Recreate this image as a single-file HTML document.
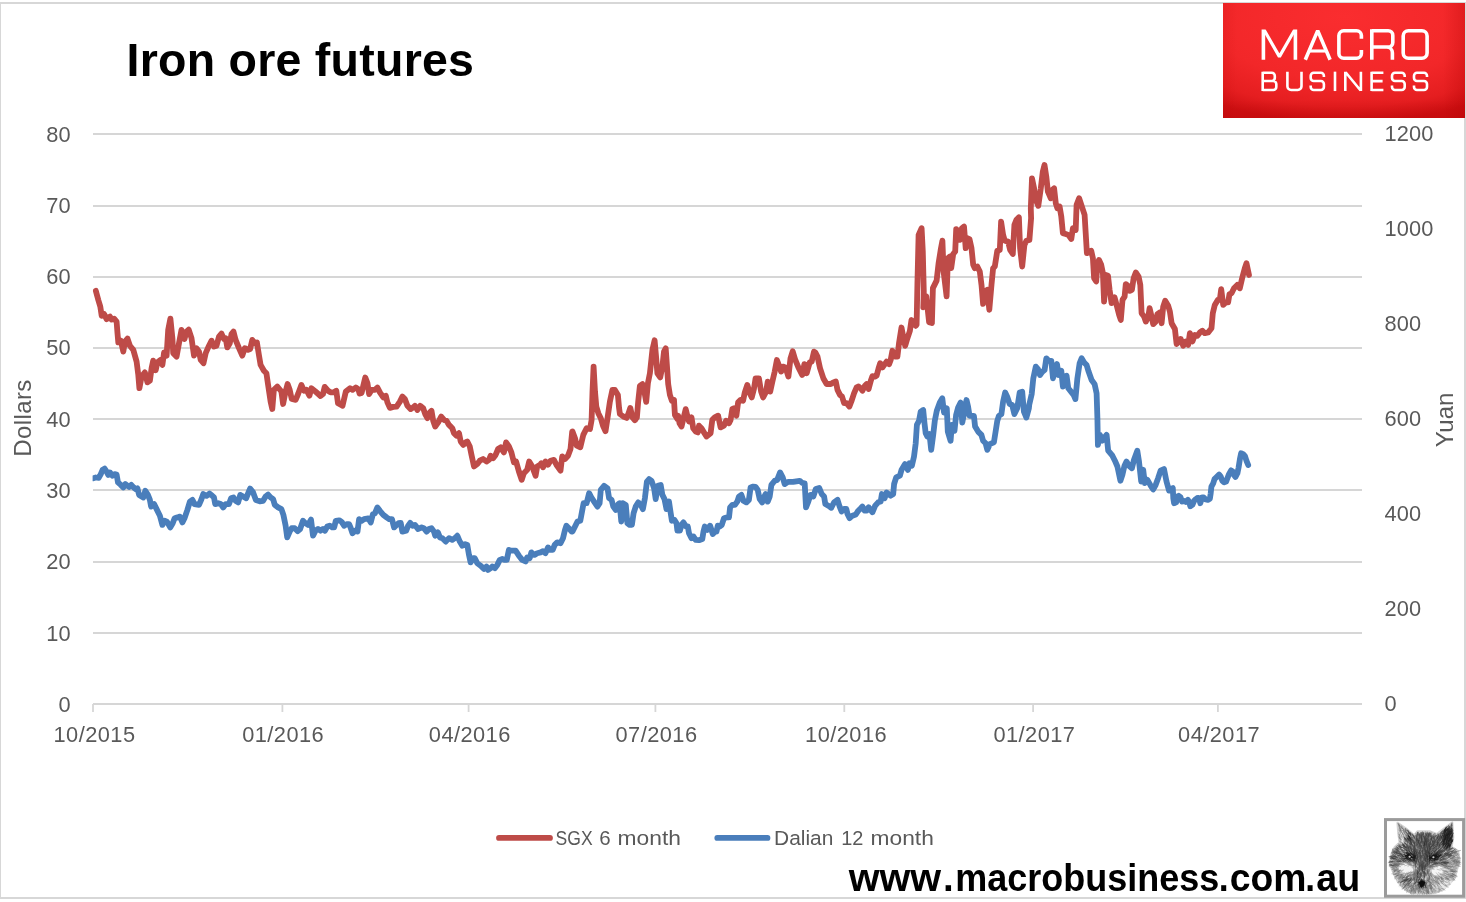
<!DOCTYPE html>
<html><head><meta charset="utf-8"><title>Iron ore futures</title>
<style>
html,body{margin:0;padding:0;background:#fff;}
body{width:1466px;height:902px;overflow:hidden;font-family:"Liberation Sans",sans-serif;}
svg{display:block;will-change:transform;}
svg text{font-family:"Liberation Sans",sans-serif;}
</style></head><body>
<svg width="1466" height="902" viewBox="0 0 1466 902">
<defs>
<radialGradient id="lg" cx="0.5" cy="0.12" r="0.92">
<stop offset="0" stop-color="#fa2d2f"/><stop offset="0.6" stop-color="#f22729"/><stop offset="0.85" stop-color="#e51e20"/><stop offset="1" stop-color="#d01114"/>
</radialGradient>
<linearGradient id="lgb" x1="0" y1="0" x2="0" y2="1"><stop offset="0" stop-color="#b00000" stop-opacity="0"/><stop offset="1" stop-color="#b00000" stop-opacity="0.3"/></linearGradient>
<linearGradient id="lgr" x1="0" y1="0" x2="1" y2="0"><stop offset="0" stop-color="#b00000" stop-opacity="0"/><stop offset="1" stop-color="#b00000" stop-opacity="0.28"/></linearGradient>
<linearGradient id="lgl" x1="1" y1="0" x2="0" y2="0"><stop offset="0" stop-color="#b00000" stop-opacity="0"/><stop offset="1" stop-color="#b00000" stop-opacity="0.12"/></linearGradient>
</defs>
<rect x="0" y="0" width="1466" height="902" fill="#ffffff"/>
<!-- chart frame -->
<g fill="#d7d7d7"><rect x="0" y="2" width="1466" height="2"/><rect x="0" y="897" width="1466" height="2"/><rect x="0" y="2" width="1" height="897"/><rect x="1464" y="2" width="2" height="897"/></g>
<!-- gridlines -->
<g stroke="#d6d6d6" stroke-width="2" fill="none"><line x1="93" x2="1362" y1="134" y2="134"/><line x1="93" x2="1362" y1="206" y2="206"/><line x1="93" x2="1362" y1="277" y2="277"/><line x1="93" x2="1362" y1="348" y2="348"/><line x1="93" x2="1362" y1="419" y2="419"/><line x1="93" x2="1362" y1="490" y2="490"/><line x1="93" x2="1362" y1="562" y2="562"/><line x1="93" x2="1362" y1="633" y2="633"/>
<line x1="93" x2="1362" y1="704" y2="704"/><line x1="93.0" x2="93.0" y1="704" y2="712" stroke-width="1.8"/><line x1="282.4" x2="282.4" y1="704" y2="712" stroke-width="1.8"/><line x1="468.6" x2="468.6" y1="704" y2="712" stroke-width="1.8"/><line x1="655.4" x2="655.4" y1="704" y2="712" stroke-width="1.8"/><line x1="844.3" x2="844.3" y1="704" y2="712" stroke-width="1.8"/><line x1="1033.1" x2="1033.1" y1="704" y2="712" stroke-width="1.8"/><line x1="1217.9" x2="1217.9" y1="704" y2="712" stroke-width="1.8"/></g>
<!-- series -->
<clipPath id="pc"><rect x="92.6" y="100" width="1270" height="620"/></clipPath>
<g clip-path="url(#pc)">
<path d="M93.3 478.3 L95.8 477.5 L98.7 477.9 L100.8 474.1 L102.5 470.0 L104.6 468.6 L106.6 471.6 L108.3 475.0 L110.0 472.5 L112.5 475.8 L114.6 474.1 L116.6 474.6 L118.0 482.4 L120.8 484.9 L123.3 487.4 L125.3 484.1 L127.5 485.8 L129.1 486.9 L131.3 484.9 L133.6 487.4 L135.8 489.1 L137.4 488.3 L139.1 494.9 L143.3 497.4 L145.3 490.8 L147.9 494.9 L149.9 499.9 L151.1 506.6 L154.1 504.1 L156.6 509.1 L159.9 515.7 L162.4 524.9 L164.6 520.7 L166.9 521.6 L170.2 527.4 L172.7 523.2 L174.6 518.2 L177.4 517.4 L179.9 516.6 L182.4 522.4 L184.5 518.2 L187.4 509.9 L189.9 501.6 L192.4 499.9 L194.5 504.1 L199.0 504.9 L201.2 499.9 L203.2 494.1 L206.5 495.8 L209.5 493.6 L212.3 495.8 L214.0 497.4 L215.2 504.1 L218.2 503.2 L220.7 504.1 L223.2 507.4 L225.7 504.1 L229.0 504.1 L231.1 498.3 L233.5 497.4 L235.6 500.8 L238.1 502.4 L240.3 494.9 L243.1 496.6 L246.1 498.3 L248.1 493.3 L250.1 488.6 L253.1 492.4 L255.9 499.9 L259.8 501.3 L263.1 500.8 L265.6 496.6 L268.1 494.6 L270.6 497.4 L273.1 499.1 L274.8 504.9 L278.1 507.4 L281.4 509.1 L283.4 514.9 L285.6 525.7 L287.2 537.4 L289.7 531.5 L291.7 528.2 L294.7 528.2 L297.7 531.2 L300.1 529.0 L303.0 520.7 L305.5 523.2 L308.0 524.9 L311.0 519.6 L313.0 535.7 L315.5 530.7 L318.0 529.0 L320.5 530.7 L323.0 529.0 L325.0 530.7 L327.2 526.6 L329.7 525.7 L332.2 527.4 L334.2 527.4 L335.8 520.8 L339.2 520.3 L341.7 521.9 L344.1 525.7 L346.6 524.1 L349.1 524.1 L350.8 528.2 L352.5 533.2 L355.0 530.7 L357.5 531.6 L359.1 519.1 L361.6 520.8 L364.1 519.1 L368.3 518.3 L370.8 522.4 L372.9 514.1 L374.9 513.3 L377.4 507.4 L379.9 510.8 L383.3 514.9 L386.6 517.4 L389.1 519.1 L391.9 519.1 L394.1 527.4 L396.6 524.9 L398.6 523.2 L400.7 522.9 L402.4 531.6 L406.2 530.7 L408.2 525.7 L410.2 522.9 L412.7 525.7 L414.9 524.9 L418.2 529.1 L421.2 527.4 L424.0 528.2 L426.5 531.6 L429.0 529.1 L431.5 528.2 L434.0 531.6 L435.2 535.7 L437.9 532.4 L439.9 537.4 L442.4 538.2 L445.7 541.6 L449.0 538.2 L452.3 539.9 L454.8 538.2 L457.3 535.7 L459.8 541.6 L462.3 545.7 L465.2 544.1 L467.3 544.9 L469.0 554.9 L470.6 562.4 L472.8 558.2 L474.8 558.2 L477.3 563.2 L480.6 565.7 L484.0 569.0 L486.5 566.5 L488.1 569.9 L490.6 568.2 L492.3 566.5 L494.8 568.2 L497.3 564.9 L499.8 559.9 L502.3 559.0 L504.8 559.9 L506.8 559.9 L508.9 549.9 L511.4 550.7 L515.6 550.7 L518.9 555.7 L522.2 559.9 L525.6 561.5 L527.2 557.4 L529.7 558.2 L531.4 552.4 L534.4 554.9 L537.2 553.2 L540.6 552.4 L543.0 551.2 L545.5 553.2 L548.0 547.4 L550.0 549.9 L552.7 549.9 L554.7 544.9 L557.2 542.4 L560.5 543.2 L563.0 538.2 L565.0 529.9 L566.4 525.7 L568.8 528.2 L571.7 531.6 L572.5 531.5 L575.0 526.5 L577.5 521.5 L580.3 520.7 L582.0 511.6 L583.6 503.2 L586.6 503.2 L589.1 493.2 L591.3 497.4 L594.1 501.6 L597.5 506.6 L599.6 503.2 L600.8 489.9 L604.1 485.8 L607.5 488.3 L609.1 498.2 L611.6 499.9 L613.3 506.6 L615.8 509.9 L618.3 504.1 L619.6 503.2 L621.3 521.5 L622.9 503.2 L625.8 504.9 L627.4 523.2 L629.6 524.9 L631.9 524.9 L633.6 513.2 L635.7 506.6 L638.2 502.4 L640.7 504.9 L642.9 509.1 L644.9 498.2 L646.9 481.6 L649.1 479.1 L651.6 480.8 L654.1 488.3 L655.7 499.1 L657.9 485.8 L660.7 484.9 L662.4 494.9 L664.5 499.1 L666.5 509.1 L669.0 501.6 L670.7 513.2 L671.9 520.7 L674.5 519.9 L676.5 523.2 L677.4 530.7 L679.9 530.7 L681.5 524.9 L683.5 522.4 L686.0 526.5 L687.8 526.5 L689.0 533.2 L691.5 538.2 L693.5 536.5 L695.7 539.9 L699.0 540.2 L702.3 539.0 L703.5 531.5 L704.8 526.5 L707.3 529.9 L710.1 525.7 L712.8 534.0 L715.1 531.5 L716.5 531.5 L717.8 525.7 L719.8 526.5 L721.8 524.9 L724.0 518.2 L726.5 517.4 L729.0 517.4 L730.1 507.4 L732.3 504.9 L734.8 504.9 L737.3 501.6 L738.9 496.6 L741.4 494.9 L743.4 500.7 L746.4 502.4 L748.9 499.9 L750.6 487.4 L753.1 486.6 L755.6 486.9 L757.7 489.9 L759.7 499.1 L762.2 502.4 L763.9 497.4 L765.6 494.1 L767.7 501.6 L769.7 496.6 L771.4 484.9 L774.7 480.8 L777.2 479.9 L780.1 472.4 L782.7 477.4 L784.7 484.1 L788.0 481.9 L793.0 481.9 L796.4 481.3 L799.7 480.8 L802.2 482.9 L804.7 483.3 L806.0 507.4 L808.3 501.6 L810.5 494.9 L812.7 494.9 L813.3 496.5 L815.8 489.0 L819.2 487.9 L821.7 494.0 L824.1 496.5 L825.3 504.0 L828.3 505.7 L831.3 507.8 L834.1 502.3 L837.5 499.8 L839.6 506.5 L841.6 511.5 L844.1 509.0 L846.3 509.0 L847.5 514.0 L849.6 518.2 L852.4 515.7 L855.8 514.5 L858.3 510.7 L860.8 508.2 L862.4 506.5 L864.6 510.7 L866.6 510.7 L868.6 507.3 L872.4 512.3 L875.2 505.7 L878.2 502.3 L880.7 501.5 L881.9 494.0 L884.6 498.2 L886.6 492.4 L888.6 494.0 L890.7 495.7 L893.2 494.0 L894.1 484.0 L896.2 477.4 L899.9 475.7 L901.5 469.9 L904.9 464.1 L907.9 469.9 L909.5 463.2 L911.9 465.7 L914.0 456.6 L915.7 443.3 L916.9 424.9 L919.0 420.8 L920.7 411.6 L923.2 410.0 L924.5 423.3 L925.7 433.3 L927.3 436.6 L929.5 434.1 L931.2 449.9 L933.2 434.9 L934.8 420.8 L936.8 410.8 L939.8 402.5 L942.3 398.3 L944.0 412.5 L946.8 408.3 L947.8 431.6 L950.6 440.8 L951.8 424.9 L954.5 430.8 L956.1 415.0 L958.1 407.5 L960.6 402.5 L962.3 422.5 L964.8 410.0 L966.5 400.0 L968.1 406.6 L969.5 415.8 L973.9 415.8 L975.1 426.6 L978.1 431.6 L981.4 434.9 L983.1 440.8 L985.6 443.3 L987.3 449.9 L989.8 444.1 L993.9 442.4 L995.6 431.6 L997.3 420.8 L998.9 415.8 L1001.4 414.1 L1003.1 401.6 L1005.2 392.5 L1007.2 396.7 L1009.7 404.1 L1012.2 405.0 L1014.4 414.1 L1017.2 408.3 L1019.7 392.5 L1022.2 391.7 L1023.9 411.6 L1026.4 417.5 L1028.9 408.3 L1029.2 404.9 L1031.7 394.1 L1033.3 378.3 L1035.8 366.6 L1038.0 369.1 L1040.0 375.0 L1042.5 371.6 L1044.6 370.0 L1046.3 358.3 L1048.6 360.8 L1051.3 360.8 L1053.0 378.3 L1055.0 368.3 L1057.0 364.1 L1058.6 375.0 L1061.3 370.8 L1062.9 386.6 L1064.6 376.6 L1066.6 375.8 L1068.3 388.3 L1071.6 392.4 L1073.6 394.9 L1075.4 399.1 L1077.4 378.3 L1079.6 363.3 L1081.6 358.3 L1084.1 362.5 L1086.6 365.0 L1088.6 371.6 L1091.6 380.0 L1094.6 384.1 L1096.6 393.3 L1097.4 418.2 L1097.9 444.9 L1099.9 434.9 L1102.4 440.7 L1104.6 437.4 L1106.6 434.9 L1108.2 450.7 L1112.4 455.7 L1114.9 460.7 L1117.4 466.5 L1120.4 480.7 L1122.4 474.8 L1124.5 465.7 L1126.5 461.5 L1129.0 465.7 L1131.9 468.2 L1134.0 459.8 L1137.3 450.7 L1139.0 461.5 L1141.2 481.5 L1143.2 469.8 L1144.8 483.1 L1147.3 479.8 L1150.7 485.6 L1153.2 489.5 L1155.7 484.8 L1158.1 478.2 L1160.6 470.7 L1164.0 469.0 L1166.5 481.5 L1169.0 490.6 L1170.6 489.0 L1172.8 488.1 L1173.3 498.3 L1174.1 503.2 L1176.2 502.4 L1177.0 496.6 L1178.7 495.8 L1180.4 497.0 L1182.0 501.6 L1184.1 500.8 L1185.8 502.0 L1187.9 499.9 L1189.1 501.6 L1190.3 506.2 L1192.4 504.9 L1194.1 500.8 L1195.8 499.1 L1197.8 497.8 L1199.1 498.3 L1200.3 503.2 L1202.0 497.4 L1203.7 497.4 L1205.7 499.5 L1207.8 499.9 L1209.9 498.7 L1210.7 493.3 L1211.4 486.6 L1213.2 483.3 L1214.5 479.1 L1216.6 477.0 L1219.1 474.5 L1220.7 476.6 L1222.4 480.8 L1224.1 482.4 L1226.1 481.6 L1227.4 478.3 L1229.0 474.1 L1231.1 470.4 L1232.8 471.6 L1234.0 475.0 L1235.5 477.0 L1237.4 473.3 L1238.6 467.5 L1239.9 459.1 L1241.1 453.3 L1243.2 454.1 L1245.0 456.2 L1246.5 460.8 L1248.2 465.0" fill="none" stroke="#4a7ebb" stroke-width="5.8" stroke-linejoin="round" stroke-linecap="round"/>
<path d="M95.8 290.8 L98.3 300.0 L100.3 306.6 L101.7 315.8 L104.1 314.1 L106.6 319.1 L110.0 316.6 L111.6 319.6 L114.1 318.6 L116.6 321.6 L117.5 333.3 L118.3 342.4 L120.8 340.7 L123.3 351.6 L125.0 341.6 L127.5 338.6 L129.9 345.7 L133.3 349.9 L136.6 361.6 L138.3 374.9 L139.4 388.2 L141.6 376.5 L144.9 372.4 L147.4 382.4 L149.9 380.7 L151.6 368.2 L153.2 360.7 L155.7 370.2 L157.4 362.4 L160.7 359.9 L162.4 364.9 L164.1 352.4 L166.6 355.7 L168.2 329.9 L170.4 318.6 L172.4 338.2 L173.2 353.2 L176.6 356.6 L179.0 343.2 L181.5 329.9 L184.5 339.1 L186.5 331.6 L188.7 329.6 L191.5 338.2 L194.0 355.7 L196.5 348.2 L199.0 351.6 L200.7 359.9 L203.5 363.2 L205.7 353.2 L209.0 345.7 L211.5 340.7 L214.0 346.6 L216.5 345.7 L219.0 336.6 L221.5 333.6 L224.0 339.1 L225.7 338.2 L227.3 347.4 L229.8 343.2 L231.5 334.1 L233.5 331.6 L235.6 339.9 L239.0 348.2 L242.3 355.7 L244.8 348.2 L248.1 349.9 L250.1 349.1 L252.3 339.9 L254.8 343.2 L256.9 342.4 L258.9 354.9 L260.6 364.9 L263.9 370.7 L266.4 373.2 L268.1 384.9 L270.6 401.5 L272.3 409.0 L273.9 389.8 L277.3 386.5 L281.4 391.5 L283.1 404.0 L285.6 391.5 L287.6 384.0 L289.7 389.8 L291.7 399.0 L295.6 399.8 L298.1 394.0 L301.4 384.9 L303.9 390.7 L306.4 389.8 L309.4 395.7 L311.4 388.2 L315.5 391.5 L320.5 396.0 L323.0 394.0 L324.7 386.9 L328.0 390.7 L330.5 392.3 L334.0 392.3 L336.3 390.8 L338.0 403.3 L342.5 405.8 L345.8 391.6 L350.0 388.3 L352.5 389.9 L355.8 387.5 L358.3 389.1 L359.6 393.6 L361.6 392.9 L363.3 385.8 L365.3 377.5 L367.5 383.3 L369.1 394.1 L371.6 389.9 L374.9 389.9 L377.4 387.5 L379.9 392.4 L383.3 397.4 L385.8 395.8 L387.4 402.4 L389.9 407.9 L393.2 406.9 L396.6 406.6 L399.9 401.6 L402.4 396.6 L404.9 399.1 L407.4 405.8 L410.7 409.1 L413.2 407.4 L414.9 405.8 L417.4 409.9 L420.2 405.8 L423.2 408.3 L425.2 414.1 L427.4 418.2 L429.9 412.4 L431.5 410.8 L433.2 420.7 L435.2 426.6 L438.2 422.4 L441.2 416.6 L444.0 419.9 L446.5 420.7 L449.0 424.9 L452.3 428.2 L454.0 433.2 L456.5 435.7 L459.0 433.2 L460.7 441.5 L463.2 444.9 L465.7 442.4 L467.3 441.5 L469.8 446.5 L471.5 454.9 L474.0 466.5 L477.3 464.0 L479.8 460.7 L483.1 459.0 L486.5 461.5 L489.0 459.9 L490.6 455.7 L493.1 458.2 L495.6 454.9 L498.1 449.0 L500.6 447.4 L503.9 452.4 L506.1 442.4 L508.9 446.5 L511.4 452.4 L513.9 462.4 L516.1 461.5 L518.9 471.5 L521.7 479.8 L523.9 473.2 L527.2 469.8 L529.2 461.5 L532.2 466.5 L535.6 475.7 L537.2 466.5 L540.1 464.8 L541.4 463.2 L543.0 467.3 L545.5 461.5 L548.0 464.8 L550.5 460.7 L553.9 459.9 L556.4 464.8 L560.5 470.7 L562.2 456.5 L565.0 459.0 L568.0 455.7 L570.5 449.0 L572.2 431.6 L572.5 431.5 L575.0 438.2 L576.7 445.7 L580.3 447.3 L583.3 434.9 L586.6 428.2 L590.0 429.0 L591.6 419.9 L592.5 391.6 L593.6 366.6 L595.0 391.6 L596.3 406.6 L598.3 413.2 L600.8 418.2 L603.0 425.7 L605.5 431.2 L607.5 418.2 L609.9 401.6 L612.4 389.9 L614.9 389.9 L617.9 394.9 L619.1 408.2 L619.9 414.0 L623.3 416.5 L626.6 417.9 L628.6 413.2 L630.3 407.9 L632.4 417.4 L634.9 420.2 L636.9 417.4 L638.2 401.6 L639.9 385.8 L642.4 384.1 L644.1 389.9 L646.2 401.9 L647.9 383.3 L649.9 373.3 L652.4 350.0 L654.6 340.3 L656.2 358.3 L657.4 373.3 L660.2 377.4 L662.4 366.6 L664.0 351.6 L665.7 348.3 L667.0 366.6 L668.2 384.1 L669.9 394.9 L671.9 400.7 L674.0 399.9 L674.9 414.9 L677.4 419.0 L678.2 415.7 L679.5 423.2 L681.5 426.5 L683.5 418.2 L685.7 409.1 L687.3 415.7 L689.0 421.5 L691.5 417.4 L693.2 428.2 L695.7 431.5 L697.8 432.4 L699.0 425.7 L701.5 428.2 L704.0 432.4 L706.5 436.5 L710.6 433.2 L712.3 419.9 L714.8 417.4 L718.1 415.7 L720.6 427.4 L724.0 425.7 L726.1 420.7 L729.0 423.2 L730.6 419.9 L732.3 409.1 L733.9 408.2 L736.4 415.7 L738.1 402.4 L740.6 399.9 L743.1 400.7 L744.8 392.4 L747.3 384.9 L749.8 393.2 L751.8 397.4 L753.9 389.1 L755.6 378.3 L758.9 378.3 L761.1 391.6 L763.1 397.4 L766.1 391.6 L767.7 381.6 L770.2 391.6 L772.2 382.4 L774.7 371.6 L776.9 360.0 L779.4 366.6 L781.1 371.6 L783.0 366.6 L785.5 367.4 L788.4 376.6 L790.5 358.3 L792.7 351.3 L795.0 359.1 L798.4 367.4 L802.2 374.9 L804.4 364.1 L806.7 373.3 L809.7 362.5 L811.7 361.6 L814.0 351.6 L815.3 352.4 L817.5 356.6 L820.0 368.2 L823.3 378.2 L826.6 384.0 L830.8 384.0 L833.3 382.4 L835.8 381.5 L837.5 389.9 L840.0 394.9 L842.0 396.5 L844.1 403.2 L846.6 403.2 L849.4 406.5 L851.9 399.9 L854.1 393.2 L856.6 387.4 L858.6 386.5 L860.8 388.2 L862.4 390.7 L864.9 385.7 L866.6 384.0 L868.6 389.0 L870.8 380.7 L872.4 376.2 L874.9 376.6 L876.6 375.7 L878.6 368.2 L880.2 363.2 L882.4 367.4 L884.9 364.1 L886.6 361.6 L889.1 364.1 L890.7 359.9 L892.4 350.8 L894.9 356.6 L897.4 356.6 L899.0 343.3 L901.5 327.5 L903.2 336.6 L905.2 345.8 L907.4 338.3 L909.9 330.8 L911.5 320.0 L914.0 324.1 L915.7 325.8 L916.6 324.7 L917.4 284.8 L918.6 234.9 L921.6 228.2 L922.8 251.5 L923.8 291.5 L923.3 307.3 L926.3 296.4 L929.1 322.2 L931.9 323.1 L932.9 288.1 L936.6 280.6 L938.6 263.2 L940.7 249.9 L942.4 240.7 L943.6 271.5 L946.6 296.4 L947.9 258.2 L949.9 256.5 L951.2 268.2 L953.2 254.0 L955.2 251.5 L956.2 229.1 L958.2 231.6 L959.9 239.9 L961.9 228.2 L964.0 226.6 L965.7 248.2 L967.3 238.2 L969.5 239.1 L971.5 248.2 L973.2 264.8 L974.8 268.2 L977.3 266.5 L979.8 271.5 L981.5 284.8 L983.1 303.9 L985.1 291.5 L987.3 289.8 L989.3 309.8 L991.5 284.8 L993.1 268.2 L994.8 266.5 L997.3 250.7 L999.8 249.9 L1001.1 221.6 L1003.1 234.9 L1004.8 240.7 L1008.1 241.6 L1010.1 249.9 L1012.8 254.0 L1014.4 224.9 L1016.4 219.9 L1018.9 217.4 L1020.1 248.2 L1022.2 266.5 L1024.4 244.9 L1026.4 240.7 L1029.4 239.9 L1031.1 218.3 L1030.8 208.3 L1032.0 178.3 L1034.1 188.3 L1035.8 199.9 L1038.3 205.8 L1040.8 188.3 L1042.8 171.6 L1044.5 165.0 L1046.3 176.6 L1047.9 191.6 L1050.8 198.3 L1052.4 189.9 L1054.1 188.3 L1055.8 203.3 L1057.4 208.3 L1059.6 206.6 L1061.3 216.6 L1062.9 233.2 L1065.8 234.1 L1068.3 234.9 L1071.3 239.0 L1072.9 228.2 L1075.7 229.9 L1076.6 204.9 L1079.1 198.3 L1081.9 206.6 L1084.6 214.9 L1085.7 233.2 L1086.9 253.2 L1089.1 251.5 L1091.2 250.7 L1092.9 258.2 L1094.1 278.2 L1096.2 281.5 L1097.4 264.8 L1099.0 259.9 L1101.2 264.8 L1102.9 273.2 L1104.1 301.6 L1105.8 275.0 L1108.0 275.8 L1109.6 289.9 L1111.6 303.2 L1114.6 297.4 L1116.6 304.9 L1119.1 314.9 L1120.8 319.9 L1122.5 299.9 L1124.6 296.6 L1125.8 284.1 L1127.9 285.8 L1129.9 290.8 L1131.9 289.9 L1133.6 278.3 L1135.8 272.5 L1138.6 276.6 L1140.3 284.9 L1141.6 313.2 L1144.1 316.6 L1145.8 321.6 L1148.3 316.6 L1149.6 308.2 L1151.6 316.6 L1153.2 324.1 L1155.7 321.6 L1157.4 314.1 L1159.9 312.4 L1161.6 323.2 L1163.2 306.6 L1165.2 300.8 L1168.2 305.7 L1169.9 311.6 L1171.6 323.2 L1174.9 329.0 L1176.6 344.0 L1179.0 341.5 L1180.7 339.0 L1183.2 345.7 L1185.7 341.5 L1188.2 344.9 L1189.9 333.2 L1192.4 341.5 L1194.9 334.9 L1197.4 335.7 L1199.9 332.4 L1202.4 330.7 L1204.8 333.2 L1208.2 332.4 L1211.5 328.2 L1212.8 313.2 L1214.8 304.9 L1217.8 299.9 L1219.8 299.9 L1221.2 289.1 L1223.2 304.9 L1225.7 302.4 L1228.1 302.4 L1229.5 294.1 L1231.5 293.3 L1234.0 288.3 L1237.3 284.9 L1239.8 288.3 L1242.3 277.5 L1244.8 268.3 L1246.5 263.3 L1249.0 275.0" fill="none" stroke="#be4b48" stroke-width="5.8" stroke-linejoin="round" stroke-linecap="round"/>
</g>
<!-- axis labels -->
<g fill="#595959" font-size="21.8"><text x="70.6" y="141.7" text-anchor="end">80</text><text x="70.6" y="212.9" text-anchor="end">70</text><text x="70.6" y="284.2" text-anchor="end">60</text><text x="70.6" y="355.4" text-anchor="end">50</text><text x="70.6" y="426.7" text-anchor="end">40</text><text x="70.6" y="497.9" text-anchor="end">30</text><text x="70.6" y="569.2" text-anchor="end">20</text><text x="70.6" y="640.5" text-anchor="end">10</text><text x="70.6" y="711.7" text-anchor="end">0</text><text x="1384.6" y="140.7" letter-spacing="0.1">1200</text><text x="1384.6" y="235.7" letter-spacing="0.1">1000</text><text x="1384.6" y="330.7" letter-spacing="0.1">800</text><text x="1384.6" y="425.7" letter-spacing="0.1">600</text><text x="1384.6" y="520.7" letter-spacing="0.1">400</text><text x="1384.6" y="615.7" letter-spacing="0.1">200</text><text x="1384.6" y="710.7" letter-spacing="0.1">0</text><text x="94.5" y="742.0" text-anchor="middle" letter-spacing="0.45">10/2015</text><text x="283.2" y="742.0" text-anchor="middle" letter-spacing="0.45">01/2016</text><text x="469.8" y="742.0" text-anchor="middle" letter-spacing="0.45">04/2016</text><text x="656.5" y="742.0" text-anchor="middle" letter-spacing="0.45">07/2016</text><text x="846.1" y="742.0" text-anchor="middle" letter-spacing="0.45">10/2016</text><text x="1034.4" y="742.0" text-anchor="middle" letter-spacing="0.45">01/2017</text><text x="1219.1" y="742.0" text-anchor="middle" letter-spacing="0.45">04/2017</text></g>
<text transform="translate(31,418) rotate(-90)" font-size="24" fill="#595959" text-anchor="middle" letter-spacing="0.4">Dollars</text>
<text transform="translate(1453,420) rotate(-90)" font-size="24" fill="#595959" text-anchor="middle">Yuan</text>
<!-- title -->
<text x="126.6" y="76.2" font-size="46.5" font-weight="bold" fill="#000" letter-spacing="0.25">Iron ore futures</text>
<!-- legend -->
<line x1="499" x2="550" y1="837.9" y2="837.9" stroke="#be4b48" stroke-width="5.8" stroke-linecap="round"/>
<line x1="717.3" x2="767.5" y1="837.9" y2="837.9" stroke="#4a7ebb" stroke-width="5.8" stroke-linecap="round"/>
<g font-size="20.5" fill="#595959"><text x="555.60" y="844.6" textLength="37.02" lengthAdjust="spacingAndGlyphs">SGX</text><text x="599.30" y="844.6" textLength="11.40" lengthAdjust="spacingAndGlyphs">6</text><text x="617.49" y="844.6" textLength="63.46" lengthAdjust="spacingAndGlyphs">month</text><text x="774.08" y="844.6" textLength="59.33" lengthAdjust="spacingAndGlyphs">Dalian</text><text x="841.23" y="844.6" textLength="22.16" lengthAdjust="spacingAndGlyphs">12</text><text x="870.59" y="844.6" textLength="63.26" lengthAdjust="spacingAndGlyphs">month</text></g>
<!-- url -->
<g font-size="38.5" font-weight="bold" fill="#000"><text x="848.73" y="891.3" textLength="92.39" lengthAdjust="spacingAndGlyphs">www</text><text x="943.00" y="891.3" textLength="10.70" lengthAdjust="spacingAndGlyphs">.</text><text x="955.13" y="891.3" textLength="264.09" lengthAdjust="spacingAndGlyphs">macrobusiness</text><text x="1218.74" y="891.3" textLength="9.93" lengthAdjust="spacingAndGlyphs">.</text><text x="1229.83" y="891.3" textLength="76.73" lengthAdjust="spacingAndGlyphs">com</text><text x="1305.37" y="891.3" textLength="9.78" lengthAdjust="spacingAndGlyphs">.</text><text x="1316.32" y="891.3" textLength="43.94" lengthAdjust="spacingAndGlyphs">au</text></g>
<!-- logo -->
<rect x="1223" y="3" width="242" height="115" fill="url(#lg)"/>
<rect x="1223" y="100" width="242" height="18" fill="url(#lgb)"/>
<rect x="1443" y="3" width="22" height="115" fill="url(#lgr)"/>
<rect x="1223" y="3" width="14" height="115" fill="url(#lgl)"/>
<g fill="none" stroke="#fff" stroke-width="3.6" stroke-linejoin="miter" stroke-miterlimit="2">
<path d="M1263.4,59.7 V29.6 M1295.4,59.7 V29.6"/>
<path d="M1264.3,30.2 L1279.4,56.6 L1294.5,30.2" stroke-width="3.2" stroke-miterlimit="1"/>
<path d="M1305.3,59.7 L1317.7,30.6 L1330.1,59.7" stroke-miterlimit="1.5"/>
<path d="M1309.8,51 H1325.6" stroke-width="3.1"/>
<path d="M1361.4,38.7 V35.6 a4.8,4.8 0 0 0 -4.8,-4.8 H1343.7 a4.8,4.8 0 0 0 -4.8,4.8 V53.4 a4.8,4.8 0 0 0 4.8,4.8 H1356.6 a4.8,4.8 0 0 0 4.8,-4.8 V50.1"/>
<path d="M1371.8,59.7 V29.25"/>
<path d="M1371.8,30.8 H1388.2 a4.6,4.6 0 0 1 4.6,4.6 V42.4 a4.6,4.6 0 0 1 -4.6,4.6 H1371.8 M1386.6,47 a5.8,5.8 0 0 1 5.8,5.8 V59.7"/>
<rect x="1403.2" y="30.8" width="23.9" height="27.4" rx="5.2" ry="5.2"/>
</g><g fill="none" stroke="#fff" stroke-width="2.6" stroke-linejoin="miter">
<path d="M1262.7,91.05 V71.65 M1262.7,72.75 H1271.8 a3,3 0 0 1 3,3 V78 a3,3 0 0 1 -3,3 H1262.7 M1271,81 H1273.3 a3,3 0 0 1 3,3 V86.95 a3,3 0 0 1 -3,3 H1262.7"/>
<path d="M1287.4,71.65 V86.25 a3.7,3.7 0 0 0 3.7,3.7 H1297.8 a3.7,3.7 0 0 0 3.7,-3.7 V71.65"/>
<path d="M1323.9,77.0 V75.75 a3.0,3.0 0 0 0 -3.0,-3.0 H1313.7 a3.0,3.0 0 0 0 -3.0,3.0 V78.0 a3.0,3.0 0 0 0 3.0,3.0 H1320.9 a3.0,3.0 0 0 1 3.0,3.0 V86.95 a3.0,3.0 0 0 1 -3.0,3.0 H1313.7 a3.0,3.0 0 0 1 -3.0,-3.0 V85.6"/>
<path d="M1335,71.65 V91.05"/>
<path d="M1345.3,91.05 V71.65 M1360.9,91.05 V71.65 M1345.6,72.2 L1360.6,90.5"/>
<path d="M1371.6,71.65 V91.05 M1371.6,72.75 H1383.4 M1371.6,81.1 H1382.6 M1371.6,89.95 H1383.4"/>
<path d="M1404.7,77.0 V75.75 a3.0,3.0 0 0 0 -3.0,-3.0 H1395.0 a3.0,3.0 0 0 0 -3.0,3.0 V78.0 a3.0,3.0 0 0 0 3.0,3.0 H1401.7 a3.0,3.0 0 0 1 3.0,3.0 V86.95 a3.0,3.0 0 0 1 -3.0,3.0 H1395.0 a3.0,3.0 0 0 1 -3.0,-3.0 V85.6"/>
<path d="M1427.0,77.0 V75.75 a3.0,3.0 0 0 0 -3.0,-3.0 H1417.0 a3.0,3.0 0 0 0 -3.0,3.0 V78.0 a3.0,3.0 0 0 0 3.0,3.0 H1424.0 a3.0,3.0 0 0 1 3.0,3.0 V86.95 a3.0,3.0 0 0 1 -3.0,3.0 H1417.0 a3.0,3.0 0 0 1 -3.0,-3.0 V85.6"/>
</g>
<!-- fox -->
<g>
<rect x="1385.5" y="819.6" width="78.1" height="76.6" fill="#fff" stroke="#9b9b9b" stroke-width="3"/>
<defs><filter id="fb" x="-5%" y="-5%" width="110%" height="110%"><feGaussianBlur stdDeviation="0.35"/></filter><clipPath id="fc"><rect x="1387" y="821.1" width="75" height="73.7"/></clipPath></defs>
<g filter="url(#fb)" clip-path="url(#fc)">
<polygon points="1397.4,822.7 1398.2,833.0 1399.6,842.6 1394.7,846.9 1391.5,853.4 1389.9,864.1 1393.7,873.8 1398.0,882.4 1405.5,889.9 1413.0,893.7 1421.6,895.3 1425.9,894.8 1434.5,893.2 1443.1,889.9 1449.6,883.5 1454.9,878.1 1457.1,869.5 1459.8,860.9 1458.2,851.2 1451.7,846.9 1453.3,837.3 1452.3,822.2 1445.3,827.6 1436.7,834.0 1430.2,831.3 1417.3,831.3 1414.1,835.1 1405.5,828.1" fill="#d2d2d2" stroke="#d2d2d2" stroke-width="2" stroke-linejoin="round"/>
<ellipse cx="1405.5" cy="868.4" rx="8.1" ry="4.3" fill="#f4f4f4" transform="rotate(20 1405.5 868.4)"/>
<ellipse cx="1437.7" cy="870.6" rx="8.6" ry="3.9" fill="#f4f4f4" transform="rotate(-20 1437.7 870.6)"/>
<ellipse cx="1444.2" cy="882.4" rx="8.6" ry="5.9" fill="#e8e8e8" transform="rotate(-30 1444.2 882.4)"/>
<ellipse cx="1402.3" cy="835.6" rx="2.4" ry="8.1" fill="#ececec" transform="rotate(-12 1402.3 835.6)"/>
<ellipse cx="1424.8" cy="843.7" rx="16.1" ry="10.8" fill="#a8a8a8" transform="rotate(0 1424.8 843.7)"/>
<ellipse cx="1448.0" cy="837.3" rx="4.3" ry="10.8" fill="#7a7a7a" transform="rotate(10 1448.0 837.3)"/>
<path d="M1427.5 847.0l0.0 3.3M1450.0 875.0l4.6 2.1M1429.2 885.4l1.9 3.3M1401.1 831.1l-1.0 -2.2M1416.9 850.1l0.1 2.1M1456.1 861.4l3.5 -1.1M1449.2 873.2l4.4 0.6M1405.6 839.7l-2.4 -3.0M1434.1 880.7l3.8 1.3M1402.8 880.0l-3.0 1.1M1401.6 832.4l-1.7 -3.4M1430.6 872.3l-1.2 3.1M1434.1 852.4l1.4 -1.6M1407.7 834.2l-1.4 -1.6M1425.3 860.1l-0.5 2.7M1409.0 874.9l-2.7 2.3M1437.1 844.9l1.2 -3.8M1421.5 839.5l-0.6 3.8M1426.1 890.6l1.1 4.4M1452.3 873.5l1.7 1.1M1430.4 849.3l1.9 -2.1M1409.7 890.4l-1.0 2.3M1411.2 862.2l-1.8 1.7M1419.2 870.7l-0.4 3.5M1404.9 855.0l-0.6 -5.0M1436.3 850.4l1.2 -1.5M1415.1 890.8l-2.3 4.5M1445.6 877.4l4.0 2.8M1432.7 842.2l1.3 -2.6M1432.6 846.9l0.2 -2.2M1449.5 854.4l4.3 1.1M1413.6 871.7l-2.8 1.0M1413.4 862.6l-4.6 2.4M1403.7 875.8l-1.9 0.3M1396.5 867.3l-3.3 1.3M1429.5 876.2l-0.3 3.9M1408.2 881.2l0.3 2.6M1425.7 887.5l0.2 2.0M1415.1 839.2l-1.4 -2.3M1407.0 887.4l-1.0 3.5M1428.4 890.2l0.3 3.6M1405.5 885.7l-2.7 3.4M1420.1 873.7l0.2 3.9M1395.3 866.1l-4.5 -1.0M1404.5 831.0l-2.4 -2.9M1423.2 879.0l2.0 4.2M1398.5 868.7l-4.4 0.6M1415.7 885.5l0.7 4.3M1434.8 876.7l3.8 0.5M1438.9 883.4l1.7 2.5M1424.2 892.6l-0.3 3.7M1446.2 857.0l3.5 -1.3M1435.8 841.0l0.9 -2.2M1423.0 886.7l1.5 4.0M1413.0 883.8l0.0 4.4M1451.8 862.3l2.5 -0.3M1437.7 838.0l0.7 -1.7M1422.9 851.0l0.3 2.4M1435.2 881.3l1.4 2.6M1414.9 862.2l0.6 4.5M1444.2 862.3l2.9 3.1M1447.5 865.7l3.1 1.3M1426.9 880.1l3.8 2.1M1421.6 835.1l1.5 3.1M1444.9 879.6l4.7 -0.7M1403.6 835.9l-1.2 -2.4M1417.9 853.9l-1.8 1.9M1437.3 844.5l0.9 -1.9M1438.8 862.7l3.3 0.2M1412.8 887.0l-2.5 4.1M1405.0 857.6l-2.5 -1.1M1426.6 833.2l0.3 3.8M1403.2 827.9l-1.1 -1.6M1415.4 864.1l0.1 3.6M1413.5 873.1l-3.5 3.2M1424.3 857.2l0.3 5.0M1402.4 830.4l-1.5 -3.1M1398.9 858.7l-3.2 -0.8M1431.1 884.1l0.9 3.7M1445.5 885.5l4.8 -1.1M1409.0 861.0l-4.8 -1.4M1438.0 888.8l4.1 2.3M1456.7 863.9l3.9 0.5M1421.2 833.2l-1.0 3.7M1420.4 888.1l-1.8 3.0M1446.6 860.9l4.2 -2.4M1451.6 853.6l3.2 -1.7M1419.6 878.8l-2.5 3.3M1429.4 852.8l1.8 -1.5M1433.0 880.9l0.2 2.0M1412.8 874.3l-1.8 1.3M1429.8 848.6l2.0 -2.4M1406.4 835.6l-0.6 -2.9M1406.7 836.6l-1.0 -2.1M1408.0 881.7l-0.1 4.5M1414.5 873.0l-0.8 4.9M1429.5 846.9l-0.3 2.9M1398.7 873.2l-2.4 3.8M1400.8 837.5l-1.3 -3.0M1398.7 877.6l-2.2 1.7M1400.9 863.4l-4.6 0.3M1407.2 840.6l-1.0 -1.9M1394.6 871.9l-0.9 2.0M1418.5 844.3l1.1 4.7M1430.4 849.3l-1.7 3.3M1446.8 850.8l4.4 -0.3M1407.1 850.3l-3.0 -2.4M1402.6 876.2l-4.1 2.1M1426.5 880.0l3.8 3.1M1407.3 836.2l-0.8 -1.1M1441.0 860.3l2.8 -1.7M1423.5 847.6l-0.1 2.4M1450.1 855.2l3.8 -0.0M1412.3 887.0l-0.7 4.2M1394.1 865.0l-2.8 -2.8M1407.4 842.3l-1.4 -2.9M1405.5 886.4l-3.7 2.4M1402.2 871.1l-3.1 2.9M1392.1 860.4l-2.2 -2.5M1411.9 885.7l-0.9 3.2M1451.9 875.7l1.9 1.0M1426.9 880.6l-0.1 3.4M1451.4 825.2l0.7 -1.6M1415.4 858.8l-0.5 3.1M1404.3 864.5l-2.7 -0.8M1432.8 851.1l1.2 -4.0M1416.1 869.8l-1.2 2.9M1436.4 852.6l4.7 -0.0M1415.0 861.3l-4.5 -2.4M1395.5 864.5l-3.9 2.9M1437.3 844.2l0.6 -1.8M1406.2 861.6l-3.1 1.2M1426.8 840.5l-0.0 4.9M1422.9 884.5l1.7 3.3M1421.7 838.4l-1.1 2.7M1403.6 831.2l-0.9 -1.0M1423.7 878.6l0.5 4.1M1396.3 863.7l-3.7 2.0M1400.4 847.8l-2.1 -1.6M1425.2 890.7l3.9 3.2M1451.1 871.5l5.0 -0.4M1439.4 876.4l4.4 2.3M1438.3 843.1l1.0 -2.1M1424.6 885.6l2.9 3.2M1411.2 891.1l-0.5 2.2M1400.6 876.3l-2.3 3.7M1446.3 864.4l4.8 -1.2M1427.3 858.9l-0.3 3.0M1435.2 864.9l3.7 -0.6M1414.4 872.8l0.4 1.9M1404.6 873.1l-3.7 1.9M1446.0 855.3l2.3 0.2M1434.1 888.3l1.8 4.0M1403.4 880.8l-2.9 2.1M1446.2 856.4l2.9 -1.6M1420.9 872.9l-0.7 2.9M1438.8 844.8l0.6 -1.6M1421.3 873.7l-1.0 4.5M1402.4 833.2l-1.8 -2.4M1414.9 874.0l-0.1 3.1M1426.5 838.1l0.3 2.2M1395.1 855.9l-2.7 -1.4M1413.2 853.3l-2.7 -3.0M1436.6 879.8l1.7 3.0M1441.0 849.0l2.0 -1.7M1455.9 864.7l2.5 -0.3M1431.7 837.4l-0.7 -2.7M1397.4 864.9l-4.4 0.7M1440.8 839.7l0.9 -3.9M1450.6 855.9l3.6 0.0M1423.1 867.2l-3.1 3.8M1396.4 852.4l-3.8 -3.3M1451.7 875.9l3.0 4.2M1400.3 861.3l-4.5 0.7M1427.9 879.0l2.7 4.0M1456.5 855.2l1.6 -1.5M1411.1 834.6l-1.3 -2.5M1419.4 841.1l1.1 4.9M1456.3 863.2l2.1 -1.3M1428.2 888.1l0.7 4.9M1401.6 836.0l-1.0 -2.7M1444.7 864.0l2.9 0.9M1454.0 863.8l2.3 -0.9M1448.8 856.7l4.3 2.4M1399.2 876.3l-4.5 2.5M1425.4 844.3l-1.1 4.3M1435.6 877.2l5.0 0.0M1416.6 861.2l-0.4 2.3M1436.3 872.8l3.1 4.0M1439.2 863.7l4.3 -2.1M1407.4 876.7l-3.6 2.9M1402.1 827.5l-1.1 -2.3M1425.8 890.1l-0.1 3.0M1438.9 853.8l2.0 -0.7M1448.5 869.8l3.6 0.3M1417.0 834.6l0.9 2.9M1425.3 880.4l-1.5 3.1M1439.2 880.7l2.7 1.3M1451.1 875.1l1.9 -0.1M1450.8 855.0l1.9 -1.7M1452.6 853.2l3.3 2.0M1415.1 877.2l0.8 2.4M1407.7 885.0l-3.6 1.2M1419.7 856.8l0.5 5.1M1400.0 866.6l-3.4 1.4M1443.8 863.4l3.0 1.4M1430.2 875.6l-1.0 4.5M1397.6 868.7l-3.0 -3.0M1394.8 868.1l-2.4 0.1M1443.8 857.0l3.9 -3.1M1415.3 838.0l-1.8 -2.2M1430.0 867.5l4.4 1.6M1403.3 864.2l-3.4 0.8M1399.5 871.3l-3.6 0.7M1398.6 874.6l-3.8 3.2M1440.4 850.3l1.7 -2.8M1420.3 888.2l0.9 3.7M1399.7 838.6l-0.8 -1.5M1418.6 837.9l0.3 4.3M1418.8 885.8l-0.7 5.1M1401.9 874.6l-4.5 1.1M1403.6 847.4l-1.0 -2.0M1450.2 870.5l4.7 1.4M1412.6 885.3l-1.8 3.6M1430.4 846.8l4.4 -2.4M1401.3 882.9l-2.2 3.0M1400.8 832.7l-2.2 -2.9M1449.2 863.9l2.4 -0.1M1400.8 830.7l-1.6 -3.2M1416.2 882.0l-1.1 3.1M1444.2 876.1l5.1 0.1M1443.5 854.6l3.6 -0.5M1428.8 869.4l-0.2 2.0M1405.3 882.4l-0.3 4.5M1441.9 858.5l3.3 -1.0M1403.7 846.4l-2.0 -3.8M1403.0 875.6l-4.2 1.3M1404.5 831.3l-1.4 -2.7M1444.7 863.2l3.0 0.5M1452.3 866.3l1.6 1.3M1403.4 874.7l-2.8 -0.1M1427.3 889.8l1.7 4.4M1440.9 865.9l4.4 0.9M1412.0 862.5l-3.4 -0.7M1436.2 865.7l1.4 -1.3M1448.4 874.7l2.9 3.0M1415.2 849.6l-1.0 2.0M1440.2 852.0l1.6 -2.2M1427.0 870.1l-0.6 4.7M1438.9 854.2l2.6 -1.0M1447.0 862.7l2.8 -0.3M1452.1 869.9l1.9 0.9M1425.7 855.3l0.3 3.4M1430.9 879.6l2.8 0.7M1428.2 851.0l-1.0 2.0M1438.8 890.2l0.3 1.9M1427.4 891.7l-0.9 3.4M1440.4 882.7l2.0 1.2M1405.0 838.8l-1.0 -2.0M1428.5 864.1l1.6 3.9M1445.6 858.8l4.8 -1.8M1414.1 863.7l-0.6 4.8M1430.1 881.9l2.5 2.7M1430.3 841.3l1.1 -4.8M1404.0 884.4l-2.3 2.8M1420.3 834.1l0.3 1.9M1451.4 859.1l2.8 -0.7M1440.8 865.6l2.8 -2.6M1434.1 890.0l0.7 2.7M1444.5 848.7l2.3 0.0M1415.0 843.8l-0.7 3.4M1406.2 850.7l-1.6 -1.7M1448.9 877.4l3.6 0.7M1406.2 832.9l-0.5 -1.5M1429.6 861.1l3.9 -0.2M1422.8 860.1l-0.4 2.1M1420.7 846.2l0.1 2.4M1431.5 882.5l0.6 2.0M1426.9 863.0l1.0 3.9M1409.6 886.2l-2.4 4.5M1439.1 879.0l2.6 3.7M1452.4 857.6l2.2 -1.1M1455.7 865.4l4.7 0.9M1419.6 889.8l-0.6 2.0M1413.9 874.0l0.7 2.1M1433.4 884.9l1.1 1.7M1422.4 866.7l0.0 3.7M1450.6 873.8l2.0 0.7M1396.6 874.4l-4.8 -0.6M1450.2 879.1l3.3 1.1M1452.6 869.3l4.2 2.0M1428.3 885.8l-0.2 3.1M1441.9 849.8l4.2 -2.6M1427.9 874.9l2.8 3.6M1444.5 854.9l4.3 -2.4M1413.7 873.0l0.5 4.9M1413.6 888.4l-0.8 2.2M1414.8 867.8l1.5 2.8M1429.0 885.2l2.6 3.8M1426.2 880.5l0.6 4.5M1428.7 834.3l0.1 3.8M1442.4 864.5l3.4 3.7M1427.9 885.8l-0.3 2.2M1411.6 885.3l-2.5 2.1M1409.8 859.8l-3.3 -0.4M1425.9 867.8l0.9 4.2M1453.5 866.9l2.5 -0.1M1415.6 891.9l-0.9 1.8M1401.1 877.1l-2.0 1.3M1428.2 872.8l-0.2 4.3M1408.9 863.5l-1.9 -1.3M1429.4 870.2l1.5 2.1M1428.3 871.3l-0.4 2.2M1443.1 871.8l3.9 0.0M1421.8 860.2l-0.4 2.8M1396.4 869.2l-2.4 1.1M1425.9 835.1l0.3 4.2M1440.6 889.1l-2.2 3.3M1410.0 873.0l-4.9 1.1M1400.8 866.9l-3.9 -2.4M1401.8 840.1l-0.8 -1.6M1400.4 833.1l-0.9 -2.8M1398.9 863.9l-4.8 0.3M1428.9 865.0l3.6 2.3M1404.1 833.4l-1.2 -2.7M1427.1 859.1l-0.8 3.1M1434.9 877.8l1.5 3.6M1438.7 856.5l3.2 -3.3M1399.0 856.8l-2.2 -2.2M1411.1 882.9l-0.4 4.1M1419.6 852.8l1.3 4.6M1419.6 840.4l0.9 2.8M1417.5 884.5l-0.4 2.3M1442.3 852.5l2.3 -3.8M1415.5 883.8l-3.0 2.7M1437.4 879.0l3.8 -1.0M1456.5 860.7l2.9 1.0M1415.0 869.7l1.5 4.2M1414.6 878.8l1.4 2.5M1414.5 850.4l0.7 4.6M1414.1 863.1l0.6 2.7M1451.8 866.1l3.9 -0.2M1429.9 882.3l0.7 2.7M1426.4 890.6l1.2 2.6M1405.0 840.2l-1.1 -3.5M1421.9 834.7l-0.3 3.2M1429.3 877.7l-1.0 3.3M1427.9 863.0l-0.7 4.5M1425.9 860.5l-1.5 3.0M1402.7 862.2l-3.3 -0.8M1427.0 838.6l-0.2 3.2M1423.1 885.8l1.0 4.7M1437.4 854.4l2.8 -1.3M1443.4 865.4l5.0 1.1M1437.5 878.1l2.1 0.8M1441.1 854.1l3.7 1.3M1398.9 870.1l-4.2 1.2M1399.1 871.6l-2.1 0.4M1444.0 872.5l2.9 1.8M1408.7 886.8l-2.0 4.6M1405.4 860.2l-2.5 0.2M1408.6 852.9l-3.1 -2.9M1414.6 857.3l-0.6 3.5M1414.1 862.5l-0.6 3.0M1441.7 852.1l3.5 -3.4M1407.6 849.6l-0.9 -3.4M1414.5 881.0l-0.1 3.2M1414.7 869.9l0.9 4.8M1456.1 864.0l3.7 -0.4M1422.3 861.8l1.1 5.0M1413.5 886.9l-1.8 2.0M1406.2 874.6l-1.7 2.1M1421.8 875.3l-2.7 3.1M1426.9 855.2l-0.5 4.2M1426.1 838.3l0.9 2.3M1454.1 871.3l3.1 0.4M1414.3 837.1l-1.7 -3.1M1432.2 852.9l1.6 -2.1M1434.2 863.5l3.3 -2.7M1416.3 842.8l-2.3 -3.2M1429.6 842.0l0.9 2.7M1430.9 877.8l3.8 2.9M1427.9 878.0l-0.2 2.5M1437.4 863.6l2.9 0.4M1398.7 865.6l-3.7 0.6M1446.0 864.3l1.9 -0.5M1454.8 853.8l4.0 1.0M1408.1 836.7l-1.0 -2.2M1416.1 884.9l1.0 4.5M1440.3 848.6l0.6 -2.0M1442.4 856.9l2.2 -3.5M1418.5 852.2l-0.4 2.9M1428.4 842.4l0.8 3.2M1423.1 863.1l0.5 2.5M1420.5 839.1l0.8 3.1M1417.3 886.9l0.5 1.9M1451.7 873.9l3.4 0.7M1454.7 860.9l2.0 0.4M1450.5 871.9l2.1 -1.1M1400.6 842.3l-0.6 -3.7M1408.0 847.4l-4.0 -0.7M1397.1 865.2l-3.1 0.1M1452.7 868.9l3.8 -1.5M1417.2 848.6l-0.3 2.9M1439.7 855.6l2.7 0.1M1428.2 870.1l-1.0 3.3M1414.0 887.8l-1.4 3.3M1411.1 890.8l-0.7 2.8M1416.6 869.3l-0.4 4.0M1411.1 860.4l-3.8 -0.9M1439.3 859.1l3.1 -1.3M1418.0 857.6l0.4 3.7M1428.6 885.1l1.9 3.4M1401.3 874.9l-4.4 1.1M1426.8 886.9l1.2 4.6M1399.5 835.2l-0.7 -2.5M1397.3 861.4l-3.2 -1.6M1414.2 857.3l0.0 3.8M1445.7 856.3l3.1 -2.7M1423.1 833.5l0.7 2.9M1440.9 881.6l2.7 0.6M1449.3 852.2l1.9 -3.9M1407.6 887.2l-1.9 1.7M1407.0 882.7l-2.4 3.7M1399.5 864.9l-4.1 -0.1M1403.1 876.9l-4.4 1.1M1433.0 866.5l4.6 0.4M1428.0 834.1l-1.8 2.3M1446.9 877.8l1.2 1.7M1430.7 868.7l2.6 0.6M1395.6 865.2l-4.4 -0.4M1415.1 878.4l-0.3 5.0M1427.3 831.7l-0.3 3.2M1428.7 881.2l1.4 4.6M1449.8 850.2l2.4 -1.8M1407.5 877.8l-2.7 2.5M1430.4 873.4l-0.7 3.2M1398.4 867.0l-2.1 -1.6M1417.0 867.2l0.5 4.7M1403.9 834.8l-1.5 -2.2M1450.1 858.5l2.1 -0.3M1410.7 834.7l-1.4 -2.5M1403.6 839.9l-0.9 -1.8M1438.5 849.8l0.9 -2.0M1410.6 876.5l-0.9 3.9M1414.4 882.2l-0.6 1.9M1431.6 885.5l1.9 4.1M1430.8 839.3l2.7 -3.3M1424.3 889.0l-0.8 3.6M1405.7 855.2l-2.7 -3.9M1441.2 869.6l3.3 0.7M1432.8 861.7l3.9 0.7M1416.1 879.8l-0.1 2.6M1448.9 864.4l3.6 0.3M1401.9 857.4l-2.1 -2.3M1428.6 836.6l0.9 3.5M1454.7 869.3l2.7 -1.3M1398.6 862.7l-5.0 0.7M1443.1 858.4l2.4 0.5M1403.4 829.2l-3.0 -2.4M1428.0 851.3l-1.2 3.7M1420.1 851.6l0.8 4.7M1429.9 849.5l0.9 -2.5M1404.5 876.7l-2.1 0.8M1417.7 876.4l-1.2 2.7M1417.5 873.2l-0.2 3.0M1429.5 884.5l2.6 4.1M1425.1 856.2l-0.8 5.1M1428.6 849.2l-1.3 4.0M1407.0 884.3l-1.1 1.8M1430.9 888.4l2.1 4.7M1442.2 874.7l1.7 1.5M1414.9 890.4l0.6 2.6M1445.8 878.4l3.8 2.5M1454.8 852.8l3.4 0.8M1412.7 840.8l-0.7 -1.4M1436.9 852.7l1.6 -2.7M1442.1 864.2l4.4 1.5M1443.2 873.9l2.7 2.2M1394.8 870.3l-2.2 0.8M1442.3 833.7l1.4 -3.8M1400.2 870.5l-2.8 -0.4M1442.5 864.9l3.8 1.5M1409.4 874.7l-3.1 2.1M1393.7 858.9l-2.0 -1.6M1424.5 884.9l-1.3 3.0M1447.7 871.8l3.4 -0.7M1411.9 871.5l-2.6 3.5M1417.7 866.4l-0.2 2.1M1401.5 861.8l-3.5 -0.2M1421.4 873.0l0.1 2.7M1412.9 837.0l-1.1 -2.3M1405.6 846.1l-2.4 -0.6M1448.9 857.2l2.4 -1.2M1409.7 884.5l0.3 2.0M1410.7 845.5l-0.7 -3.5M1408.8 864.5l-4.1 1.3M1395.4 854.4l-2.3 -3.5M1426.9 844.2l-0.2 3.3M1407.4 884.5l-3.2 1.3M1426.6 856.6l-0.2 2.9M1401.3 879.6l-3.2 2.8M1395.7 870.7l-2.2 1.4M1416.3 884.5l-1.4 1.6M1405.8 848.0l-1.8 -1.1M1414.3 871.5l0.2 2.2M1400.3 828.4l-1.2 -2.0M1401.0 864.7l-4.1 -3.1M1430.5 878.6l1.6 1.3M1407.1 846.9l-3.1 -2.0M1399.4 872.6l-4.6 1.9M1415.3 875.3l0.0 2.1M1428.2 866.6l-0.4 3.1M1427.9 869.6l0.5 3.4M1436.8 845.4l1.0 -2.9M1421.3 888.7l-2.5 3.4M1428.0 872.4l0.4 3.0M1414.0 860.9l-4.8 -0.8M1444.0 873.5l4.8 1.0M1416.6 865.9l-1.0 1.8M1411.9 890.7l-0.3 4.6M1445.6 879.4l3.8 2.8M1414.7 873.4l0.0 3.0M1413.6 844.4l0.8 2.8M1438.0 838.0l1.0 -2.7M1437.6 855.6l2.6 -2.2M1450.4 858.5l3.3 -1.2M1405.3 858.1l-4.8 -1.7M1416.1 888.4l-2.3 3.8M1410.5 846.3l-0.0 -2.1M1423.2 840.2l-0.1 2.2M1446.0 876.9l2.4 0.3M1440.8 877.4l1.6 2.6M1438.4 872.7l2.4 1.3M1401.7 875.4l-2.6 1.2M1437.3 880.4l1.8 3.5M1396.1 856.1l-3.3 -0.4M1441.4 854.5l4.4 -1.6M1457.6 861.2l2.0 0.1M1431.2 836.2l0.5 -2.8M1431.1 873.5l2.0 3.1M1449.5 877.3l3.9 2.1M1406.5 884.7l-3.3 2.9M1431.0 875.8l2.6 3.0M1400.5 839.1l-1.9 -3.3M1404.3 864.5l-2.9 -0.5M1429.8 881.8l1.0 2.9M1455.4 854.3l2.2 -1.3M1430.3 865.3l-0.3 2.4M1406.6 860.9l-3.3 -3.1M1429.3 844.0l0.1 4.0M1414.2 865.1l-1.9 2.3M1423.0 840.4l-0.2 3.3M1419.1 890.2l-0.5 2.4M1402.2 828.6l-1.1 -2.2M1444.6 877.9l4.1 0.5M1413.0 889.0l-2.3 2.9M1454.5 853.0l2.3 -1.4M1435.6 863.4l2.2 -0.6M1456.3 863.5l3.8 -0.9M1411.5 864.2l-3.6 2.2M1399.5 872.4l-4.6 1.3M1418.7 884.8l0.0 2.0M1455.7 864.6l3.9 1.6M1400.1 842.3l-0.7 -1.2M1414.0 844.8l-1.1 3.9M1413.1 872.4l0.0 4.4M1428.7 866.9l0.4 3.7M1415.7 866.0l-0.1 4.0M1433.6 863.8l4.6 1.7M1420.2 886.0l-0.7 2.8M1446.9 876.4l3.7 0.7M1398.1 863.8l-3.5 -1.0M1438.9 847.5l0.6 -1.9M1434.6 885.7l1.5 3.0M1411.1 834.8l-1.5 -2.9M1401.9 847.0l-4.0 0.4M1436.6 840.1l0.5 -2.3M1422.1 837.5l-0.9 2.0M1398.7 854.5l-1.6 -2.3M1427.2 881.9l2.3 3.7M1421.1 864.6l-0.4 4.2M1403.6 846.1l-2.4 -1.8M1416.7 880.7l-2.4 3.5M1402.0 873.8l-2.4 0.8M1427.7 872.6l1.9 3.9M1455.1 860.3l3.7 -1.6M1415.3 855.3l0.6 4.8M1442.5 834.6l0.5 -3.5M1440.4 874.4l3.6 0.6M1411.3 843.9l-1.1 -2.6M1424.3 848.2l-1.2 2.9M1417.2 841.7l-0.1 3.5M1446.7 849.9l1.9 -1.8M1421.1 891.7l-1.5 2.6M1398.7 869.0l-4.2 2.3M1435.4 862.7l3.0 -1.3M1409.1 832.8l-1.1 -2.4M1429.1 876.9l-1.7 3.8M1428.8 887.3l2.7 2.2M1403.5 834.7l-1.7 -2.1M1429.4 878.3l1.9 4.0M1442.6 864.5l2.9 -0.2M1413.2 886.9l-2.0 2.8M1450.5 869.7l3.9 1.9M1414.2 874.0l-2.9 3.3M1414.7 843.0l-0.5 4.0M1454.2 860.8l2.5 0.2M1428.7 885.6l0.3 2.6M1435.3 881.8l3.9 2.3M1427.1 867.8l0.4 4.0M1414.1 845.3l1.4 4.8M1442.3 865.3l4.4 1.5M1404.3 856.8l-2.5 -1.0M1425.9 858.0l-1.8 4.6M1414.1 860.2l-2.5 -1.5M1407.6 861.3l-4.4 -2.5M1434.5 882.2l0.8 2.0M1407.5 864.1l-2.9 -3.9M1418.6 885.5l-0.8 2.8M1420.7 865.6l0.2 2.3M1401.6 846.9l-1.5 -3.4M1406.9 844.4l-3.7 -2.8M1444.9 862.9l3.6 -2.0M1408.4 876.1l-3.0 2.3M1402.1 832.0l-1.1 -2.4M1398.3 874.5l-3.4 2.1M1405.3 835.5l-1.4 -3.2M1447.2 863.2l1.9 -1.1M1442.9 859.9l4.6 -1.6M1401.9 837.7l-0.7 -1.5M1406.3 838.4l-1.3 -3.0M1452.8 860.7l2.1 -0.5M1421.5 842.2l0.8 2.5M1411.2 873.9l-3.3 3.1M1446.5 877.3l2.5 1.4M1440.2 877.8l4.1 2.4M1452.4 834.7l0.6 -1.2M1444.6 875.2l2.3 1.2M1445.6 881.8l4.2 1.7M1451.2 855.6l2.7 -0.6M1405.4 879.4l-0.5 3.9M1412.5 841.6l-1.7 -2.9M1437.2 839.8l0.6 -2.2M1428.2 846.3l-0.7 3.8M1426.3 854.7l0.1 3.1M1399.7 835.8l-1.2 -1.7M1426.6 890.0l1.0 2.7M1403.5 843.2l-2.5 -1.1M1434.4 877.2l4.3 2.5M1427.4 871.1l-0.7 4.6M1414.3 889.3l-1.7 3.8M1439.4 846.2l1.1 -1.4M1431.7 850.2l1.4 -2.4M1451.8 861.7l2.9 -0.2M1403.3 861.7l-2.7 -0.0M1435.1 890.0l2.4 1.7M1398.7 866.4l-4.5 0.7M1452.6 869.5l3.5 -0.4M1428.0 840.3l-0.9 5.0M1442.3 870.6l4.9 0.6M1438.8 846.0l0.8 -1.5M1432.0 877.8l2.8 2.6M1445.8 870.5l3.5 3.5M1429.3 860.2l1.4 1.7M1418.3 844.9l-0.0 2.4M1435.7 841.0l0.1 -2.1M1430.5 867.3l3.0 -0.3M1412.9 860.5l-4.4 -1.3M1414.7 886.3l-1.3 2.7M1410.8 864.8l-3.3 -1.2M1397.0 869.4l-5.0 0.0M1437.2 884.5l1.4 4.1M1426.7 885.5l-1.0 3.1M1448.4 865.6l3.6 1.3M1399.0 853.9l-2.1 -0.9M1394.9 863.7l-2.9 -0.4M1439.8 845.0l0.7 -2.3M1425.8 852.4l1.6 4.9M1442.1 883.1l1.8 1.8M1431.0 852.9l2.8 -1.9M1424.8 865.8l0.1 3.7M1426.1 877.4l0.9 2.8M1438.4 861.1l3.5 -1.8M1423.0 887.7l0.3 3.6M1420.7 841.6l-0.2 5.1M1409.4 863.8l-2.6 -1.4M1398.0 874.5l-3.2 2.4M1441.3 876.2l1.3 2.7M1445.7 867.2l4.7 -0.9M1408.1 872.0l-1.1 4.5M1444.8 884.6l2.3 1.9M1402.0 874.9l-1.7 1.4M1429.8 884.2l0.8 3.8M1425.6 843.7l-2.6 3.5M1423.3 892.2l1.9 1.2M1408.5 848.5l-1.5 -1.8M1438.7 886.6l1.0 2.9M1403.5 870.0l-2.4 0.7M1443.7 883.1l2.5 2.0M1432.2 864.5l2.8 -2.1M1400.8 831.5l-1.7 -3.2M1430.0 868.9l-0.6 2.5M1430.2 866.4l2.6 -0.5M1426.6 884.9l1.6 4.6M1451.1 867.2l3.7 -0.2M1412.8 852.3l-2.3 -4.4M1416.4 852.6l-1.7 3.8M1412.6 865.1l-2.0 0.6M1420.8 843.1l0.7 4.1M1431.8 862.2l2.1 -2.4M1422.6 889.6l-0.9 2.1M1407.5 838.8l-1.0 -1.8M1430.6 865.4l1.9 -0.3M1423.6 844.2l-0.7 4.9M1418.1 879.5l1.0 3.9M1427.8 880.3l-0.5 2.2M1418.8 844.0l0.2 3.2M1430.6 885.2l1.0 3.8M1453.3 860.7l4.6 -1.9M1434.7 841.5l1.0 -2.3M1443.7 870.7l4.4 2.3M1415.0 885.1l1.2 3.9M1400.0 852.6l-3.4 -2.0M1416.9 843.3l1.3 4.0M1424.2 836.0l-1.7 4.5M1403.5 862.5l-4.3 1.4M1453.8 862.5l4.2 -0.2M1453.7 854.3l2.5 -1.5M1453.7 853.4l2.7 -1.0M1453.4 861.2l2.4 2.0M1437.1 865.9l2.5 -1.1M1416.4 857.3l1.8 4.8M1436.1 877.8l2.8 0.8M1402.1 865.1l-4.1 -1.1M1449.1 856.4l4.9 -0.3M1430.6 873.6l1.2 3.7M1429.4 891.6l1.2 2.4M1395.0 855.0l-3.3 -1.1M1424.4 865.0l1.3 3.8M1441.5 877.8l0.5 2.0M1431.4 885.5l-0.3 2.9M1436.5 848.4l0.3 -2.2M1398.7 865.6l-4.6 -1.3M1456.0 860.4l2.9 0.7M1439.1 865.7l2.8 -2.7M1412.5 877.3l-1.9 2.4M1427.8 848.3l-1.6 3.7M1446.2 866.2l3.3 -0.2M1442.1 864.3l4.5 1.7M1452.4 857.2l3.1 0.8M1431.4 873.0l3.7 3.2M1415.5 864.9l0.6 2.0M1451.1 858.5l4.2 -0.5M1419.0 841.0l-0.4 4.9M1399.2 849.1l-2.0 -3.4M1439.4 838.6l0.5 -2.0M1398.4 866.1l-2.8 -0.0M1401.2 855.8l-4.5 0.8M1404.6 831.6l-2.0 -3.5M1428.4 867.0l4.7 -0.8M1424.3 865.4l-0.0 3.9M1445.9 878.4l2.1 0.2M1437.9 862.8l2.2 -2.4M1397.0 869.9l-3.9 2.4M1400.9 869.4l-3.0 2.6M1441.4 887.8l3.6 2.4M1450.1 862.7l4.0 0.8M1415.4 869.7l-1.4 4.2M1405.1 875.6l-3.8 0.6M1436.8 844.9l0.5 -1.3M1396.7 864.1l-1.8 -1.5M1426.8 882.3l0.3 3.7M1429.2 866.1l2.4 -0.6M1457.1 859.4l3.6 -1.1M1419.4 887.9l-1.0 4.5M1418.9 863.7l0.2 2.5M1415.7 859.9l0.1 4.8M1432.7 887.5l0.8 4.4M1435.8 883.0l2.1 3.2M1426.2 882.8l1.2 3.4M1449.9 828.0l1.1 -3.9M1440.5 866.3l4.1 1.1M1416.3 882.0l-2.8 2.9M1449.9 871.0l3.0 0.8M1432.0 879.9l1.9 4.2M1423.6 865.1l-1.1 3.8M1423.1 838.2l0.5 3.0M1434.2 846.5l1.2 -4.3M1427.4 868.5l0.2 4.9M1451.1 860.7l4.2 -1.3M1394.6 864.3l-2.7 1.6M1412.1 875.1l2.5 2.0M1418.8 868.3l0.6 3.4M1410.7 875.1l-3.9 2.1M1432.2 873.9l2.4 3.7M1414.8 866.1l-3.8 -1.0M1401.1 840.0l-1.8 -2.4M1453.5 875.3l3.6 0.8M1441.5 841.8l0.8 -1.7M1456.8 857.8l3.2 -0.1M1424.4 887.7l1.7 3.2M1454.8 865.7l4.0 0.3M1424.5 884.9l2.4 3.9M1449.6 849.2l1.0 -3.2M1411.3 842.6l-1.0 -1.6M1421.6 844.0l-1.0 3.3M1453.2 861.1l1.6 1.2M1400.0 862.5l-4.0 -0.5M1447.6 868.7l4.0 -0.7M1447.3 867.2l4.5 -2.4M1431.9 846.3l3.5 -2.4M1447.5 862.2l4.7 -2.1M1440.1 857.4l1.2 -3.8M1400.9 862.4l-2.2 -1.4M1400.3 855.6l-1.9 -0.4M1401.6 881.7l-2.8 0.0M1439.1 859.4l3.3 0.2M1411.0 871.2l-4.0 3.3M1418.9 864.3l0.5 2.1M1421.1 873.7l-1.3 3.0M1427.7 841.6l0.5 4.5M1447.9 879.6l3.5 1.1M1429.9 883.5l1.6 3.2M1424.5 876.0l-1.8 4.5M1436.7 838.9l1.6 -3.9M1405.5 858.4l-2.7 -0.1M1435.0 863.5l2.9 -0.1M1410.3 885.0l-1.8 2.3M1430.6 847.6l1.4 -1.6M1401.2 830.3l-1.4 -2.9M1457.4 862.3l2.2 -0.1M1450.3 874.6l2.7 1.5M1419.0 838.8l-0.0 2.0M1405.8 830.5l-1.5 -1.7M1412.1 882.8l-0.5 3.7M1400.0 878.9l-2.3 3.7M1438.8 879.6l4.4 2.3M1415.6 865.4l-0.2 2.7M1435.7 881.8l4.0 2.2M1396.1 850.9l-2.2 -2.0M1412.6 853.4l-1.2 -4.4M1420.5 877.5l-0.4 3.4M1395.1 866.5l-3.3 1.0M1457.5 856.2l1.5 -1.2M1443.2 865.0l3.2 0.6M1399.3 851.0l-2.2 -3.4M1415.9 884.3l-0.3 2.1M1411.7 885.3l-1.4 1.5M1430.4 839.2l1.2 -1.7M1456.4 861.8l4.5 1.0M1447.8 868.1l4.3 1.7M1447.0 863.5l3.5 -0.5M1415.9 837.0l-0.8 -1.6M1411.0 847.4l-1.3 -2.4M1421.0 871.9l-1.2 4.6M1429.6 848.2l0.1 3.5M1428.3 876.9l-0.3 3.0M1402.5 837.2l-1.7 -3.2M1413.8 885.7l-0.6 4.3M1427.7 889.7l0.9 2.8M1428.5 871.5l1.1 3.6M1407.6 849.6l-1.8 -3.4M1418.7 883.2l-1.0 4.5M1400.2 860.8l-2.9 -0.3M1428.8 844.7l-0.4 3.6M1425.3 845.9l-0.7 4.1M1418.5 850.0l1.7 4.3M1394.1 860.4l-2.2 -2.9M1428.4 889.6l-1.7 4.1M1427.5 871.1l-0.6 3.1M1399.7 864.4l-4.3 0.8M1399.6 864.7l-3.6 0.6M1428.7 843.4l0.9 3.9M1420.3 853.0l0.4 2.3M1421.4 886.5l-0.2 2.1M1433.1 864.4l2.4 -0.0M1424.3 835.2l0.3 2.5M1427.9 873.8l1.8 3.8M1444.2 885.5l4.0 1.7M1405.6 839.1l-1.8 -3.2M1435.7 841.0l0.9 -2.1M1430.7 882.5l2.3 2.2M1408.0 862.5l-2.3 -0.1M1447.2 861.8l3.3 0.3M1430.3 874.1l0.8 2.2M1433.3 846.9l1.7 -2.2M1431.1 869.8l0.7 4.8M1393.9 853.8l-2.0 -0.1M1425.8 887.2l0.8 3.1M1413.8 874.2l-2.2 0.7M1447.8 875.3l4.4 2.2M1394.4 866.1l-4.3 -1.4M1435.3 841.8l1.3 -4.0M1410.5 835.6l-1.3 -2.8M1449.1 868.7l2.8 0.7M1400.2 837.7l-0.9 -1.2M1441.1 879.2l2.7 1.1M1411.6 864.5l-4.1 -2.5M1401.9 877.5l-1.9 2.4M1430.4 872.9l1.3 3.2M1399.3 863.3l-4.3 -2.2M1422.6 843.7l-0.9 3.9M1433.4 864.3l3.7 2.3M1429.7 840.9l1.1 -5.0M1403.7 884.1l-1.6 2.6M1422.5 839.5l-1.1 2.6M1423.8 861.6l-0.6 3.2M1411.9 875.3l-3.4 1.0M1452.7 864.8l2.3 -0.5M1423.2 839.1l1.5 4.5M1442.0 846.0l1.2 -3.9M1410.3 890.0l-3.8 2.6M1441.5 855.1l2.9 -1.1M1411.0 882.0l-2.0 2.3M1450.2 876.1l3.6 -0.8M1454.1 860.0l2.1 1.6M1429.5 888.4l2.9 3.8M1415.3 875.1l-0.0 2.8M1400.6 828.8l-0.8 -1.2M1442.3 867.0l3.4 0.9M1428.2 833.3l0.1 2.8M1417.1 870.2l-0.5 3.3M1405.2 833.7l-2.0 -3.1M1410.1 890.6l-0.1 2.2M1413.5 874.8l-0.2 5.1M1435.2 851.4l4.0 -0.7M1430.7 836.6l-0.2 -2.3M1418.5 842.3l-0.3 3.5M1452.8 865.3l3.8 -3.1M1453.3 877.9l1.2 2.3M1405.4 886.2l-2.7 2.9M1422.6 891.6l-0.3 3.6M1425.5 887.5l1.8 3.4M1407.1 885.6l-2.7 3.9M1430.6 867.2l2.0 0.4M1448.7 855.6l2.0 -1.2M1416.0 887.5l-4.2 2.8M1428.1 859.5l0.9 2.4M1406.0 860.2l-2.7 -1.0M1441.4 877.7l4.1 0.5M1446.8 874.3l3.1 0.3M1406.6 872.6l-2.3 4.6M1422.7 850.0l-1.1 3.6M1418.6 882.8l-0.7 3.9M1408.9 878.2l-2.3 2.3M1440.2 868.7l5.0 -0.0M1402.1 881.4l-3.4 1.0M1408.4 847.1l-0.4 -3.4M1433.2 884.3l2.8 2.3M1417.2 832.7l-0.6 4.9M1406.7 888.2l-2.3 2.4M1432.9 880.1l1.4 2.0M1451.8 864.3l3.3 -1.8M1405.2 848.2l-1.0 -4.5M1440.9 879.5l2.6 0.9M1417.1 884.7l-1.7 1.4M1432.5 839.3l2.2 -1.7M1415.0 858.5l0.4 3.8M1437.6 883.3l1.7 1.3M1415.3 871.1l0.1 4.9M1456.3 858.3l3.3 -1.3M1395.3 864.4l-2.4 -0.1M1430.5 866.9l2.3 -1.5M1420.8 885.0l-2.5 4.3M1423.6 887.8l-1.1 1.9M1428.5 843.4l0.8 3.0M1428.0 869.6l-0.6 4.6M1421.2 886.4l-2.3 4.0M1398.2 855.8l-1.0 -1.7M1393.5 867.5l-4.2 -0.9M1411.7 883.0l-3.2 3.3M1400.5 882.7l0.3 3.1M1411.2 873.7l-1.8 3.0M1426.6 875.3l0.8 2.9M1416.6 857.7l-0.4 2.5M1429.5 871.3l0.3 2.4M1431.0 865.1l4.7 -1.6M1447.8 849.4l1.8 -1.3M1408.6 841.0l-2.3 -3.3M1414.5 889.9l-0.8 3.0M1424.7 875.5l-0.1 3.0M1412.3 872.3l-3.6 0.5M1441.9 864.0l4.4 -0.4M1407.8 886.5l-4.9 1.5M1419.2 868.4l-0.9 2.7M1437.7 863.7l4.7 1.5M1405.2 877.2l-1.7 2.9M1448.3 860.1l4.6 -1.2M1452.5 871.6l3.1 0.9M1440.3 885.8l1.7 1.2M1416.5 885.3l0.2 2.6M1397.4 850.1l-2.6 -1.7M1397.3 852.9l-1.6 -2.3M1445.8 867.0l2.0 0.4M1446.9 868.1l4.3 -0.9M1393.3 866.3l-4.3 -1.0M1417.5 854.4l-0.1 4.5M1403.6 852.2l-2.1 -1.6M1417.9 850.5l-0.7 4.7M1427.3 870.0l0.8 3.5M1396.6 867.8l-3.8 0.4M1428.4 832.8l0.9 3.3M1417.5 869.9l0.1 4.5M1444.7 852.8l4.6 -1.9M1415.6 864.5l-0.5 2.1M1423.9 891.5l0.5 2.6M1400.9 870.6l-3.4 0.9M1429.3 878.2l-0.9 3.5M1414.1 842.4l0.6 2.1M1449.6 860.6l1.9 1.6M1441.5 878.3l2.3 0.5M1427.8 878.0l1.0 4.9M1424.9 854.4l-0.5 3.4M1416.2 881.4l-1.5 3.2M1430.9 839.6l1.6 -3.8M1452.2 861.3l5.0 0.5M1437.0 869.2l3.2 1.0M1403.3 836.1l-0.9 -2.5M1437.6 884.6l2.8 2.6M1439.8 854.4l2.9 -3.5M1436.3 850.5l3.4 -1.1M1431.0 888.3l0.2 3.1M1413.7 869.6l-0.1 2.6M1426.3 856.2l-0.6 2.7M1453.1 856.7l3.9 -1.8M1441.9 881.0l4.4 1.1M1450.6 846.6l0.7 -1.8M1452.6 873.9l4.4 2.5M1413.7 878.0l-4.3 2.7M1410.1 886.8l2.0 4.5M1416.7 888.5l-1.0 3.8M1420.9 890.9l1.4 3.2M1398.5 859.6l-4.1 -0.3M1424.5 853.0l0.9 3.0M1437.5 879.5l1.8 3.0M1412.9 842.7l-1.9 -3.6M1409.6 837.2l-1.1 -3.4M1435.8 875.9l0.3 4.6M1398.6 864.1l-3.6 0.7M1423.7 846.4l0.7 2.7M1405.4 848.4l-1.4 -2.5M1441.9 847.1l1.0 -2.0M1420.9 887.5l-0.2 5.0M1430.9 879.4l1.9 3.5M1429.8 833.7l1.3 -1.7M1431.7 843.4l1.0 -2.1M1432.4 866.4l2.0 0.2M1452.1 860.2l3.5 -0.7M1428.2 848.0l0.8 2.8M1400.0 873.9l-2.2 1.8M1419.7 886.5l-2.7 3.9M1424.4 848.0l-0.0 4.5M1413.2 884.0l-0.7 3.3M1428.4 833.5l0.4 3.6M1440.6 838.3l0.6 -1.6M1454.3 856.5l3.1 -1.2M1416.8 862.3l0.3 3.6M1410.4 854.1l-2.8 -3.6M1439.3 887.9l4.4 1.2M1429.4 877.0l-0.0 4.5M1421.8 870.8l0.1 2.7M1429.5 867.1l4.3 -1.7M1451.1 875.9l4.8 1.4M1454.0 858.1l4.3 -1.4M1435.3 864.3l4.9 1.2M1415.8 888.3l-0.6 4.4M1450.3 867.0l2.2 -0.7M1409.5 874.3l-3.3 2.4M1414.6 879.3l-1.0 4.2M1410.0 847.5l-1.2 -2.2M1426.2 838.1l0.6 3.5M1398.8 848.9l-5.0 -0.0M1394.6 866.1l-1.9 0.5M1401.6 878.3l-2.7 0.7M1451.5 831.4l1.0 -3.7M1450.4 858.1l4.3 -1.9M1417.7 888.1l-0.0 3.8M1433.0 865.1l3.3 -1.6M1444.7 867.4l3.7 1.6M1442.1 882.7l1.7 1.7M1425.7 880.2l1.0 1.9M1432.6 890.6l-1.1 3.3M1415.3 889.0l-2.5 2.9M1426.3 850.4l-0.2 3.2M1419.9 891.2l-2.6 3.9M1404.4 833.2l-0.7 -2.2M1431.6 852.0l2.0 -3.2M1432.6 864.7l2.1 0.1M1422.1 838.4l0.1 4.1M1453.3 871.2l2.5 -0.4M1395.0 870.4l-2.9 -1.1M1399.3 873.0l-3.6 0.5M1415.0 887.9l-1.2 2.3M1423.4 879.8l2.3 4.0M1428.8 839.0l-0.0 5.0M1417.4 832.0l0.6 2.9M1428.0 839.4l0.3 2.4M1410.9 888.0l-3.5 3.3M1398.3 852.8l-2.6 -2.9M1434.4 843.6l1.5 -4.6M1403.2 883.3l-3.2 3.1M1451.4 870.6l3.5 3.1M1402.6 877.9l-1.5 1.5M1449.9 875.1l2.2 1.4M1434.2 866.5l1.9 -0.9M1396.9 870.0l-2.8 0.8M1425.3 831.5l0.9 3.2M1413.8 878.6l-3.2 3.7M1413.7 883.5l-0.3 2.8M1429.6 866.4l2.7 -1.5M1418.6 872.4l-0.7 4.8M1419.8 844.3l-0.3 3.0M1412.2 883.6l-3.1 4.1M1441.9 875.8l4.5 2.2M1436.7 882.2l1.5 1.4M1396.0 874.5l-2.5 0.1M1410.4 844.4l0.0 -3.9M1406.5 854.3l-3.4 0.3M1407.2 878.3l-2.8 4.3M1439.7 856.4l4.3 -0.7M1415.0 862.7l0.7 2.8M1426.7 850.8l-1.1 3.2M1428.9 865.6l1.0 4.0M1408.8 842.8l-1.5 -3.1M1404.0 876.6l-3.3 1.1M1452.6 873.8l3.5 2.3" stroke="#5a5a5a" stroke-width="0.42" stroke-opacity="0.75" fill="none" stroke-linecap="round"/>
<path d="M1434.1 850.1l1.8 -1.8M1419.1 842.6l0.9 4.4M1418.9 876.1l-0.0 4.1M1422.7 868.6l0.6 5.1M1396.2 856.2l-4.1 -2.5M1451.0 842.8l0.9 -1.5M1405.9 839.8l-1.3 -2.2M1400.9 847.6l-1.4 -1.8M1407.5 848.2l-1.5 -1.8M1442.0 839.2l0.8 -2.0M1435.3 848.8l2.0 -2.5M1427.0 859.6l0.3 1.9M1428.5 844.6l0.9 2.1M1424.7 858.0l1.0 3.3M1455.4 851.8l5.0 -1.3M1401.5 854.1l-2.8 -1.0M1408.4 831.7l-0.8 -1.6M1421.7 845.5l-0.4 2.3M1406.2 830.4l-1.0 -2.0M1410.6 859.8l-2.2 -2.1M1441.2 863.5l1.3 -1.8M1417.5 857.0l-1.0 4.5M1411.7 849.4l-1.5 -2.8M1425.0 835.1l-0.0 2.2M1411.4 840.1l-1.8 -3.0M1399.3 849.8l-2.6 -3.0M1441.9 845.5l1.5 -3.0M1424.4 853.6l-0.4 2.9M1422.7 845.6l0.1 2.8M1418.5 859.2l0.1 2.8M1417.0 836.3l-0.7 3.3M1439.5 845.3l0.6 -2.0M1447.8 839.8l0.8 -2.7M1399.2 826.7l-1.2 -3.3M1416.6 838.8l-0.1 2.5M1424.8 872.6l-0.1 3.9M1405.5 850.3l-2.7 -2.8M1444.6 862.1l3.7 0.6M1437.8 852.6l2.6 -1.3M1419.8 881.8l-1.1 2.2M1447.7 834.9l1.8 -3.3M1405.4 851.9l-2.4 -1.4M1433.4 846.0l1.4 -3.6M1434.7 855.0l3.5 -0.5M1402.5 857.3l-2.1 -1.0M1395.7 855.2l-1.4 -1.7M1443.4 859.8l3.5 -0.4M1425.4 842.7l-0.3 4.9M1419.0 879.5l-3.9 3.4M1415.0 877.7l-0.8 2.0M1433.1 864.3l4.6 -1.8M1421.4 836.6l-0.0 3.0M1443.9 860.7l4.0 -0.4M1403.9 846.4l-1.3 -2.5M1425.0 884.2l0.2 2.0M1419.8 878.1l0.8 2.5M1434.7 848.3l1.7 -1.8M1422.4 886.5l-0.6 2.5M1401.5 847.9l-3.0 -4.1M1405.4 850.7l-4.1 -0.7M1434.3 841.6l-0.1 -3.3M1410.2 852.2l-3.7 -1.9M1408.7 839.6l-2.0 -3.1M1408.6 850.0l-1.6 -1.2M1407.9 839.6l-0.6 -1.6M1422.7 861.8l-0.4 3.3M1420.3 850.6l-0.4 4.6M1425.9 839.5l-1.6 4.2M1412.5 845.4l-2.0 -3.4M1444.4 863.8l2.8 -0.7M1412.7 855.1l-2.2 -3.0M1440.0 840.8l1.8 -2.9M1408.1 853.8l-1.1 -1.7M1423.2 863.4l-0.2 4.2M1429.7 848.9l-0.2 5.1M1409.3 878.2l-3.8 3.2M1430.6 852.3l2.9 -2.4M1423.7 832.9l-0.5 1.9M1408.6 883.2l-1.0 2.2M1429.4 861.0l2.0 -1.1M1419.0 867.1l0.3 3.3M1408.8 857.0l-1.8 -1.5M1418.6 840.6l-1.2 4.5M1438.3 856.3l3.8 -1.0M1411.3 839.9l-0.6 -1.2M1416.9 851.7l-0.6 5.0M1401.7 847.6l-4.2 -2.1M1411.3 850.8l-3.1 -0.5M1425.8 858.2l0.7 3.8M1414.5 849.0l2.2 4.5M1436.7 837.3l0.9 -2.7M1420.8 865.5l-0.7 4.6M1417.6 873.7l-1.6 3.1M1427.4 847.9l-0.2 4.6M1406.8 856.1l-3.8 -1.9M1451.7 831.5l0.8 -2.3M1430.0 842.2l-0.4 4.7M1449.3 849.1l1.9 -3.0M1408.1 854.9l-2.3 -2.0M1427.8 838.6l0.4 2.6M1406.1 840.3l-0.9 -2.0M1443.3 835.7l1.1 -3.6M1409.9 849.5l-1.0 -2.4M1412.8 857.3l-1.7 -1.8M1424.0 851.4l0.0 4.9M1442.2 847.1l0.8 -2.8M1411.4 854.7l-3.0 -0.5M1434.9 844.7l1.5 -2.1M1435.5 850.4l2.1 -2.6M1450.8 841.6l1.0 -2.8M1425.9 863.7l-0.2 3.3M1436.8 843.0l1.0 -2.7M1414.3 877.7l0.2 3.5M1408.8 841.4l-0.8 -1.8M1418.0 871.2l-0.2 2.1M1418.6 859.8l1.3 3.6M1421.5 841.1l-0.2 1.9M1440.8 859.3l2.9 -0.9M1425.4 849.8l0.1 4.2M1439.4 852.1l2.7 -1.9M1417.2 849.4l-1.3 1.5M1431.5 851.3l2.8 -3.7M1438.9 846.2l0.3 -1.3M1438.4 850.4l3.8 0.7M1427.2 855.4l-1.6 3.3M1425.1 853.6l2.6 3.3M1424.0 880.3l-1.5 1.9M1407.8 883.2l-3.7 1.4M1414.4 847.6l-0.7 5.0M1420.8 856.0l-0.7 4.3M1441.6 864.7l3.5 -2.1M1408.1 846.4l-1.2 -3.4M1413.1 861.8l-3.6 -1.0M1409.3 879.4l-2.1 3.2M1430.1 848.9l0.8 -2.3M1422.2 832.2l0.6 2.5M1407.7 883.3l-1.9 1.9M1446.6 851.9l4.0 -0.4M1419.1 865.1l-0.5 3.0M1432.9 844.7l1.3 -3.1M1406.6 849.5l0.1 -3.7M1436.2 863.9l4.0 -1.7M1418.6 879.4l-0.2 5.1M1452.4 831.7l0.3 -1.5M1448.4 830.9l0.8 -2.9M1445.9 838.6l0.8 -3.5M1424.6 851.2l1.1 3.7M1424.4 863.6l2.6 3.7M1395.6 856.6l-4.1 1.0M1413.8 836.7l-1.2 -2.6M1423.6 881.3l-1.0 3.4M1443.7 857.3l4.1 -2.5M1434.3 837.5l1.5 -1.7M1421.6 864.1l0.2 2.1M1394.3 856.4l-4.1 0.3M1446.5 827.6l0.4 -1.2M1420.7 849.9l1.9 3.9M1407.6 842.2l-2.3 -3.5M1409.7 878.2l-2.8 1.7M1448.7 838.8l0.4 -1.3M1448.7 840.3l1.5 -3.1M1398.0 857.9l-2.3 -1.4M1427.3 837.6l0.5 2.3M1418.0 870.5l-0.6 3.4M1408.3 856.0l-2.3 -1.4M1450.0 854.0l3.9 -2.6M1430.0 833.2l0.0 3.1M1399.3 852.1l-2.1 -0.7M1403.4 877.7l-1.6 2.3M1414.3 861.0l-3.1 -1.1M1413.1 857.1l0.3 2.1M1434.9 840.9l-0.5 -3.3M1446.1 845.2l0.5 -1.5M1416.5 856.0l0.3 3.0M1423.2 865.7l-1.6 4.1M1410.3 878.1l-1.9 1.6M1449.0 834.7l0.4 -1.6M1431.3 844.6l2.3 -3.6M1408.7 849.9l-1.9 -2.4M1427.3 853.3l2.0 4.3M1413.5 840.6l-0.7 -1.3M1404.7 857.1l-3.8 -2.5M1425.9 856.3l0.7 2.5M1391.9 865.5l-2.2 0.2M1420.2 848.3l-0.4 2.9M1441.1 837.2l1.4 -3.9M1407.5 842.5l-0.6 -1.1M1408.2 859.7l-2.5 0.7M1413.9 877.5l-2.0 2.6M1414.1 851.9l0.2 2.4M1423.1 856.6l0.5 3.6M1433.7 858.8l2.7 -3.6M1415.7 848.9l-0.7 2.7M1447.7 834.9l1.4 -3.5M1421.7 848.5l-3.2 4.0M1432.4 847.0l1.8 -4.1M1444.2 830.4l1.7 -3.0M1424.1 873.9l0.5 3.1M1442.2 831.6l0.5 -1.3M1448.7 855.7l4.2 -2.5M1417.5 832.4l0.8 2.7M1436.2 849.3l2.0 -2.1M1429.4 834.7l-1.3 3.9M1418.3 872.5l-0.8 2.2M1408.3 834.4l-0.6 -4.2M1429.3 863.6l2.0 -0.6M1396.4 857.0l-2.7 0.0M1446.9 854.8l4.9 0.8M1425.2 832.7l0.7 2.1M1437.1 838.6l0.4 -1.4M1396.8 859.3l-2.4 -0.8M1403.9 861.0l-2.5 -1.7M1426.1 863.7l-1.0 3.4M1435.9 836.6l2.0 -3.1M1426.1 847.1l-1.0 4.5M1441.0 838.8l1.5 -3.2M1438.4 843.0l1.1 -2.7M1406.0 848.0l-1.9 -2.9M1404.9 845.0l-2.2 -0.8M1447.1 842.5l1.0 -2.2M1395.9 856.4l-2.0 -1.0M1425.9 855.9l-0.5 4.7M1414.3 849.7l0.6 3.3M1406.2 878.5l-1.8 4.3M1422.4 834.7l0.8 2.6M1423.4 865.7l0.5 3.7M1421.8 879.4l-2.7 3.3M1437.7 851.7l2.7 -1.6M1423.8 848.6l-0.5 1.9M1405.6 878.7l-2.8 2.5M1396.0 857.7l-2.9 0.5M1422.8 832.5l0.7 4.0M1421.8 863.3l0.4 2.2M1416.7 851.9l-0.9 3.9M1417.1 876.3l-0.2 3.4M1408.7 833.6l-0.5 -1.9M1451.2 829.7l0.5 -2.1M1403.3 854.4l-2.7 -0.7M1423.9 836.3l1.2 4.1M1403.2 856.8l-1.5 -1.7M1416.6 851.1l0.5 4.0M1431.2 858.1l-2.6 3.6M1409.3 851.7l-2.9 -1.7M1425.0 837.1l0.2 5.1M1444.1 855.1l2.1 -0.9M1421.1 879.6l-0.5 2.4M1407.2 844.9l-3.1 -1.7M1427.7 847.3l0.4 4.3M1429.7 850.9l1.5 -2.6M1407.3 851.1l-3.3 -2.6M1426.1 848.3l-0.2 3.7M1418.0 852.7l0.4 4.5M1398.6 851.1l-2.0 -2.0M1404.7 847.2l-1.4 -3.2M1407.6 841.7l-1.2 -2.3M1435.6 846.1l1.9 -3.6M1415.0 850.5l1.5 3.7M1426.2 863.5l0.1 3.1M1429.8 862.6l3.3 -1.2M1433.4 843.2l1.2 -2.2M1421.7 873.0l-0.5 4.0M1436.6 861.9l1.7 -1.5M1411.2 840.2l-1.8 -3.1M1392.6 861.7l-4.3 1.0M1433.6 856.2l2.4 -3.3M1413.3 845.7l-1.8 -0.9M1401.1 861.3l-3.8 -0.9M1419.2 839.3l-0.3 3.8M1413.5 846.8l-2.5 -4.2M1443.4 845.6l0.8 -3.5M1399.3 853.7l-3.2 -1.0M1449.2 840.5l0.4 -2.4M1439.5 855.6l2.2 0.1M1433.9 847.7l2.0 -1.5M1445.1 833.7l0.8 -1.7M1405.6 847.5l-3.4 -2.8M1429.7 854.0l2.9 -1.0M1449.9 830.7l0.7 -1.4M1432.5 849.0l1.2 -3.1M1435.1 859.9l2.4 -0.6M1416.7 861.6l-0.6 2.1M1412.3 854.0l-1.0 -4.4M1415.8 844.7l-0.6 4.5M1414.1 860.1l-4.7 -0.7M1441.6 863.4l4.4 -1.0M1417.2 855.1l0.4 4.1M1429.7 842.9l0.5 4.8M1422.3 841.4l-0.2 2.5M1438.5 848.5l1.5 -2.2M1428.0 839.9l-1.6 3.8M1412.6 846.9l-1.2 -4.0M1435.6 850.1l3.2 -2.2M1422.6 855.4l0.4 2.5M1428.6 844.6l0.8 2.6M1432.3 862.3l2.6 -0.7M1445.5 831.5l1.3 -2.5M1442.4 839.2l1.6 -2.0M1414.0 853.2l-2.2 -2.0M1433.3 839.4l0.4 -2.4M1416.2 835.1l0.0 3.0M1403.1 847.7l-4.6 -1.0M1407.3 879.9l-4.2 0.0M1446.3 842.1l0.9 -2.2M1424.4 879.5l-0.1 3.1M1405.2 880.5l-3.1 1.0M1401.4 858.6l-4.2 -2.6M1406.3 832.2l-0.9 -1.4M1416.1 854.0l1.2 2.0M1445.2 861.8l2.6 0.9M1449.3 850.0l3.1 -2.2M1442.9 858.5l2.7 0.4M1421.2 870.6l-1.3 3.9M1426.0 841.3l0.2 1.9M1421.9 840.6l0.1 2.4M1408.4 878.3l-1.2 1.9M1426.8 832.6l-0.7 4.6M1425.4 873.6l0.5 2.0M1407.4 854.1l-0.9 -4.0M1427.9 857.1l-1.1 2.8M1410.2 860.4l-3.4 -1.0M1434.6 852.6l1.9 -4.4M1408.8 853.4l-3.0 -1.1M1419.8 843.4l0.2 3.3M1435.8 854.2l3.7 -1.7M1426.3 838.4l-1.0 3.4M1434.6 863.2l2.1 -0.7M1416.7 860.7l0.4 4.8M1414.3 841.1l-1.3 2.9M1434.4 861.7l4.3 -2.5M1423.3 836.1l-0.4 2.6M1445.5 857.1l2.9 -3.5M1436.4 853.2l2.9 -2.3M1425.6 860.6l-0.5 2.2M1428.4 845.4l-0.8 4.7M1423.4 873.3l0.5 1.9M1418.3 840.3l1.0 4.2M1423.5 859.9l-1.0 2.2M1396.9 857.3l-4.9 -1.4M1401.9 845.7l-2.4 -0.9M1424.9 866.6l1.0 4.1M1425.8 839.3l-0.5 2.6M1424.8 870.6l-0.6 2.1M1417.6 856.3l-0.2 4.7M1413.7 861.7l-4.3 -1.8M1410.9 882.1l-1.4 1.6M1430.6 859.8l1.7 -3.3M1425.6 863.0l-0.3 4.1M1412.9 849.1l-3.4 -2.7M1446.0 854.5l2.5 -4.1M1393.3 855.9l-4.3 0.7M1437.9 837.8l0.8 -3.7M1414.4 858.4l0.6 3.6M1428.5 850.8l-0.3 2.9M1443.4 850.5l4.0 -0.4M1419.5 869.4l-0.1 2.4M1444.2 830.8l1.8 -2.5M1420.1 859.1l0.1 3.3M1439.9 837.2l0.9 -2.2M1435.9 855.0l3.2 -1.4M1434.0 848.3l1.7 -3.3M1426.1 861.4l1.2 4.2M1430.8 838.9l3.8 -1.2M1418.0 857.2l-0.0 2.5M1393.9 858.4l-3.9 -1.8M1407.8 836.6l-1.9 -2.2M1394.1 858.1l-4.3 -0.8M1431.5 839.0l0.7 -2.2M1439.5 839.3l1.6 -4.0M1428.8 859.5l0.0 2.1M1415.0 859.3l0.5 2.8M1441.0 853.1l1.3 -1.8M1447.6 855.6l2.0 -1.8M1409.8 844.6l-1.6 -2.7M1400.5 854.4l-4.8 -1.6M1418.4 853.1l2.2 2.6M1423.8 855.5l1.2 2.8M1414.1 851.3l-0.3 4.9M1440.6 838.8l0.9 -2.5M1444.1 851.1l1.2 -2.6M1425.1 836.0l-0.7 3.3M1433.9 849.2l2.4 -2.9M1403.2 856.9l-2.3 0.3M1416.1 837.9l-0.2 4.9M1440.6 855.3l2.7 -3.9M1441.8 862.1l2.6 0.2M1432.5 836.2l1.5 -2.2M1423.5 857.5l-0.6 4.6M1418.3 861.4l-0.5 3.1M1444.8 850.5l1.3 -3.0M1431.4 853.4l0.5 -3.3M1420.1 863.9l-1.0 4.7M1421.6 878.6l1.7 3.6M1437.9 845.2l2.1 -3.4M1406.7 877.2l-3.6 0.5M1451.7 833.4l0.6 -2.1M1405.3 843.9l-1.3 -3.3M1418.5 883.7l0.6 3.7M1411.1 876.4l-1.1 4.3M1418.2 837.7l-1.3 4.7M1448.4 856.5l1.9 -0.3M1422.4 834.3l0.6 1.9M1393.7 865.7l-4.0 -1.4M1417.4 875.3l-0.6 4.8M1397.9 855.3l-3.1 -3.3M1419.6 886.2l2.2 1.9M1434.4 847.3l2.6 -2.0M1438.7 851.3l1.2 -1.6M1449.5 852.4l3.1 -1.2M1423.9 863.0l1.1 3.6M1407.4 878.1l-2.7 2.7M1449.0 849.0l4.9 -0.6M1431.2 854.2l3.0 -3.4M1420.6 853.7l-0.8 3.0M1419.8 852.8l-1.4 2.5M1411.6 840.4l-1.1 -1.8M1431.0 839.7l0.2 -3.9M1393.2 861.4l-3.2 0.4M1420.1 881.5l-1.4 4.7M1391.7 864.3l-2.5 -2.4M1415.0 860.7l0.4 2.6M1429.5 844.5l0.2 4.1M1426.0 860.8l1.5 3.3M1428.3 840.0l0.2 2.0M1423.8 882.0l2.5 1.3M1420.3 844.8l-0.5 3.6M1426.9 843.3l-3.0 4.1M1421.2 862.0l-0.4 4.3M1422.1 863.3l0.2 4.5M1424.4 848.8l1.5 4.1M1444.9 854.3l0.9 -1.9M1432.6 841.5l-1.5 -3.3M1422.9 867.4l-0.1 3.9M1422.6 841.5l0.2 3.6M1416.8 845.7l1.3 2.5M1428.7 833.1l0.1 4.4M1427.8 846.8l1.3 1.7M1420.3 863.1l-0.7 4.3M1440.4 840.9l0.7 -2.8M1425.8 858.0l-0.1 3.7M1427.5 833.4l-0.9 2.2M1410.3 852.7l-2.1 -4.2M1429.3 834.7l-1.2 1.7M1440.9 851.5l3.4 -3.4M1433.3 842.4l1.6 -4.0M1407.7 879.7l-0.7 2.6M1426.4 840.0l0.4 2.3M1431.4 863.4l4.5 -1.7M1445.0 855.8l3.2 -0.9M1419.2 834.2l0.3 4.4M1432.5 845.5l3.1 -3.2M1408.8 841.2l-1.3 -2.7M1426.5 854.2l1.6 2.8M1444.1 851.2l4.2 -0.6M1412.2 857.6l2.1 3.5M1412.3 853.3l-1.1 -1.8M1406.1 841.8l-0.6 -1.2M1432.4 845.6l1.7 -2.9M1437.7 858.9l2.5 -0.8M1409.0 835.8l-1.3 -2.4M1415.7 840.4l-1.8 -3.6M1409.2 849.1l-2.1 -3.7M1437.2 844.4l0.8 -3.3M1437.0 837.9l1.0 -2.0M1420.9 882.9l-0.7 2.0M1402.0 855.3l-2.5 -2.7M1395.0 863.2l-2.9 -0.9M1414.2 837.5l-1.5 -2.4M1414.6 850.5l0.4 3.8M1417.2 839.0l-1.8 4.2M1422.0 850.8l-2.9 2.5M1427.7 855.8l-0.6 4.8M1410.5 856.7l-2.3 -2.6M1422.3 854.0l-0.6 3.4M1401.5 858.6l-2.0 -0.3M1422.0 837.8l0.3 3.8M1400.6 846.3l-2.2 -1.3M1417.4 876.4l-1.2 4.0M1411.3 843.8l0.1 -2.6M1418.4 875.8l-0.3 2.2M1417.0 859.6l-1.4 4.8M1426.2 845.5l-0.2 3.1M1398.1 858.4l-3.4 -0.2M1427.8 859.2l0.1 2.9M1401.6 861.4l-4.6 -1.8M1434.2 856.4l1.5 -1.3M1406.9 845.4l-2.4 -3.5M1423.1 853.7l0.3 2.0M1420.1 848.4l0.9 2.4M1414.5 858.4l0.7 4.0M1430.8 839.2l2.0 -2.1M1405.2 840.8l-0.8 -1.4M1447.0 837.8l2.0 -3.3M1398.0 850.5l-1.3 -1.8M1439.7 860.5l3.3 -1.7M1439.7 859.6l3.6 1.3M1422.2 850.9l-0.2 4.2M1442.2 846.2l0.8 -1.5M1415.8 879.1l0.6 1.9M1403.4 877.3l-1.3 1.5M1419.2 834.0l1.9 4.5M1395.9 862.1l-3.3 -1.5M1435.8 856.1l3.5 0.4M1420.1 875.8l-0.6 3.7M1408.9 858.3l-1.3 -1.5M1429.1 862.9l-0.4 2.2M1442.9 834.8l1.0 -3.0M1399.6 825.4l-0.7 -1.5M1418.2 882.4l-3.6 1.0M1407.8 851.5l-4.1 -3.1M1422.4 861.2l-0.3 3.2M1411.7 845.1l-3.0 -2.2M1448.0 854.9l2.6 0.2M1433.6 853.7l4.7 -1.9M1416.2 842.4l0.8 3.5M1435.7 837.5l-0.6 -4.1M1449.3 836.7l0.5 -2.4M1425.1 881.1l1.1 3.0M1421.0 859.7l1.1 4.7M1415.8 872.9l0.5 5.1M1418.8 871.8l0.2 3.3M1426.6 849.8l-0.0 2.2M1434.1 842.3l1.6 -2.3M1439.8 836.6l1.2 -3.7M1436.8 844.4l1.1 -1.8M1436.2 852.4l2.7 -1.8M1423.3 885.9l-0.9 3.2M1443.1 848.6l0.7 -1.8M1445.3 850.1l2.2 -1.1M1419.8 871.2l1.5 3.7M1407.3 840.6l-2.6 -2.7M1400.0 849.2l-4.5 -1.5M1440.2 849.7l3.6 -2.5M1420.4 852.4l-0.6 3.8M1444.1 863.2l1.8 0.7M1444.2 833.1l1.3 -2.9M1430.2 851.1l0.0 2.0M1410.7 862.1l-2.4 -0.8M1416.9 875.9l1.7 2.0M1447.7 850.6l1.9 -1.3M1402.3 858.3l-2.8 0.1M1437.0 852.7l1.1 -1.9M1410.7 880.0l-1.8 1.4M1410.7 838.9l-0.5 -1.6M1427.0 862.7l-0.9 3.2M1422.4 866.1l-0.3 4.2M1440.5 843.1l1.9 -3.2M1396.9 852.2l-1.0 -1.6M1446.0 849.1l0.7 -2.5M1403.9 850.3l-2.5 -0.5M1437.9 851.2l2.0 -2.5M1410.8 835.7l-0.6 -1.9M1451.0 839.6l1.3 -3.7M1432.6 853.0l3.9 -2.7M1440.1 851.2l4.4 -0.2M1417.9 832.9l-0.6 2.1M1412.1 839.3l-0.7 -1.5M1442.7 839.6l0.7 -1.6M1423.8 860.2l-0.6 3.3M1431.9 844.5l0.9 -3.8M1438.5 852.9l3.6 -0.2M1423.7 883.5l1.8 3.0M1411.4 845.8l-1.7 -1.6M1424.2 872.1l0.7 2.8M1420.9 864.2l0.5 3.4M1414.4 843.8l-3.7 -3.4M1421.7 839.2l-0.3 2.0M1418.5 840.0l0.6 4.2M1419.4 866.5l1.9 4.7M1418.9 856.5l1.1 4.0M1447.9 843.6l0.7 -3.0M1407.9 835.0l-2.2 -2.9M1412.2 859.5l-2.9 1.4M1417.4 872.9l0.8 4.7M1427.7 852.8l0.4 4.2M1419.7 865.7l0.1 4.6M1426.0 837.0l-0.4 2.8M1441.2 843.4l0.8 -2.4M1407.5 878.4l-2.8 2.6M1425.0 862.3l-0.2 4.2M1409.5 849.6l-1.5 -1.6M1449.8 836.1l2.2 -3.1M1403.6 846.2l-1.4 -1.9M1420.5 832.8l0.7 5.0M1429.7 858.6l3.0 -2.1M1424.4 867.2l-0.4 2.1M1415.8 853.1l-0.3 2.0M1413.6 857.6l1.6 4.0M1418.5 860.7l0.4 4.5M1424.4 843.2l0.7 4.7M1396.6 850.1l-1.9 -1.4M1414.5 846.8l2.6 3.9M1433.3 852.0l1.1 -2.3M1444.0 849.2l1.2 -3.8M1413.3 840.9l-1.8 -3.3M1432.9 840.9l0.8 -4.7M1419.4 845.1l-0.4 4.2M1412.3 839.0l-2.3 -3.5M1432.0 861.7l2.6 -1.5M1423.7 845.3l-0.8 3.7M1426.3 840.9l-0.2 2.4M1417.7 837.8l-0.8 3.5M1442.7 849.5l2.9 -2.8M1424.6 867.2l0.1 2.6M1399.9 852.1l-2.5 -2.6M1422.2 854.8l-1.0 2.4M1436.6 842.1l1.7 -3.0M1419.4 879.6l-1.8 3.2M1400.5 860.5l-2.1 -0.9M1432.6 856.6l2.7 -3.6M1392.9 861.8l-2.6 -0.8M1396.8 860.3l-3.1 0.8M1450.6 827.4l1.2 -3.6M1436.1 848.0l1.7 -3.6M1442.1 838.7l0.8 -2.9M1429.5 861.3l0.4 4.0M1429.9 856.1l-2.3 4.4M1438.5 856.3l2.6 -1.1M1429.6 850.0l0.9 3.4M1448.6 831.5l1.1 -2.6M1423.6 862.5l-0.1 2.3M1404.6 861.8l-2.4 -2.4M1425.9 854.1l-0.1 4.9M1419.3 855.1l0.7 3.7M1420.5 842.2l-1.0 2.9M1417.1 870.1l0.3 4.7M1419.5 833.4l0.9 4.7M1411.8 847.0l-2.3 -1.5M1428.3 851.0l-0.3 3.8M1404.7 858.4l-2.1 -1.9M1421.4 868.3l0.9 3.1M1408.9 852.5l-2.3 -1.9M1398.2 853.2l-4.3 -1.8M1446.5 841.4l0.7 -1.7M1414.4 845.6l-0.3 4.0M1443.3 862.7l3.3 0.4M1394.9 858.3l-4.9 0.4M1437.5 849.3l1.9 -1.5M1401.8 854.3l-2.9 -0.7M1430.2 841.3l-0.0 2.5M1411.1 838.3l-1.2 -1.6M1443.0 847.7l0.2 -3.1M1397.3 857.7l-4.6 -2.1M1422.3 855.7l-0.5 3.2M1403.5 859.6l-2.3 -2.4M1424.1 871.6l0.5 2.5M1428.6 844.1l0.4 2.4M1414.6 849.0l-1.4 2.6M1448.1 827.0l0.8 -1.8M1452.5 852.3l2.6 -3.6M1450.5 843.4l1.5 -2.8M1440.7 852.3l2.5 -2.5M1422.6 870.6l3.7 3.4M1420.7 862.1l0.8 5.0M1423.9 871.9l0.3 4.5M1406.0 860.5l-2.5 -0.6M1425.5 884.8l0.1 2.9M1406.2 860.9l-3.8 -2.9M1423.6 832.4l0.0 2.1M1439.1 849.8l3.2 -3.1M1454.5 851.7l1.9 0.4M1425.3 864.6l-1.5 4.9M1419.3 838.2l-1.3 4.8M1391.7 862.2l-2.5 -0.5M1429.0 851.5l0.6 2.1M1421.9 836.0l-0.2 4.3M1446.1 848.5l0.8 -1.3M1436.7 839.6l1.0 -2.1M1436.8 853.6l3.1 -1.7M1427.4 865.7l-1.0 3.2M1406.5 848.9l-2.4 -3.3M1434.3 851.8l2.3 -2.5M1424.8 841.3l-0.1 2.9M1428.7 852.6l0.0 4.2M1405.2 882.1l-2.1 2.0M1428.4 861.9l-0.8 3.5M1404.8 879.5l-1.8 4.6M1396.7 853.8l-2.9 -0.4M1410.8 844.0l-0.4 -3.1M1439.5 851.4l2.0 -1.8M1410.1 843.4l-1.8 -3.5M1404.9 859.1l-3.5 -0.9M1421.2 857.5l0.1 2.1M1437.3 837.4l1.5 -3.3M1424.2 850.1l-1.7 2.6M1402.2 850.0l-1.7 -1.5M1408.4 850.4l-0.1 -4.4M1411.5 879.3l-1.9 1.6M1413.7 853.5l-0.4 3.9M1421.2 835.3l0.2 4.5M1411.6 878.3l-2.6 4.1M1437.6 852.9l4.6 -1.7M1417.2 855.7l2.3 4.3M1424.3 849.4l1.1 1.7M1421.0 832.5l0.3 4.0M1418.2 860.1l-0.3 4.8M1443.3 842.3l0.7 -3.2M1439.1 852.8l4.0 -3.0M1432.1 851.0l4.1 -1.1M1405.5 863.0l-2.9 -3.2M1400.1 861.6l-2.9 -0.2M1448.8 849.2l1.3 -2.0M1418.6 846.2l-0.8 3.1M1428.6 852.0l1.1 3.7M1411.6 849.9l-2.0 -2.3M1425.7 872.3l0.1 4.0M1441.3 832.5l0.7 -1.3M1416.1 851.7l1.2 2.8M1403.3 879.2l-2.0 3.1M1438.4 855.5l1.1 -4.6M1435.2 863.5l5.0 -0.0M1399.0 852.9l-1.4 -2.0M1422.9 866.0l-0.4 2.6M1437.7 843.4l0.2 -1.6M1410.5 860.6l-3.0 -0.8M1429.1 846.0l0.7 4.3M1416.8 849.5l0.2 2.9M1422.3 865.0l-1.3 4.7M1436.4 843.2l0.9 -2.3M1403.6 861.6l-3.5 -1.2M1402.5 850.4l-1.6 -3.6M1403.8 861.5l-4.0 -2.8M1416.2 861.8l-0.9 3.0M1407.1 852.9l-0.1 -2.4M1436.2 857.6l3.7 -3.3M1420.0 835.0l-0.3 2.8M1395.8 851.5l-3.5 -2.3M1439.7 858.9l2.5 -1.8M1413.2 853.8l-0.0 3.0M1415.8 854.3l0.3 2.4M1411.5 848.7l-4.0 -2.1M1395.6 858.7l-4.9 -0.3M1437.3 839.1l1.7 -3.3M1448.0 827.9l0.5 -2.3M1447.6 847.6l1.0 -3.8M1415.9 856.6l0.9 5.0M1405.3 846.3l-2.6 -2.8M1444.6 837.2l0.7 -1.9M1430.1 862.0l2.9 0.2M1449.5 849.0l2.9 -1.3M1453.5 853.1l2.7 -3.1M1421.7 832.5l0.3 3.0M1410.1 863.3l-3.1 -4.1M1440.1 860.8l1.9 -1.1M1422.9 872.1l-0.7 2.6M1413.6 859.9l0.9 4.0M1448.1 852.7l3.9 -1.5M1429.8 833.9l2.2 -1.0M1413.9 843.6l-1.7 -3.5M1428.8 850.3l4.6 -1.8M1412.4 837.9l-1.2 -2.1M1411.5 878.1l-1.9 1.8M1406.4 830.5l-0.6 -1.9M1419.3 838.1l-0.8 3.4M1425.7 841.3l1.3 4.1M1430.8 840.2l0.8 -2.4M1416.5 843.4l-0.4 3.5M1421.3 855.0l-0.3 3.3M1425.7 850.8l0.9 4.1M1447.6 846.8l0.8 -3.1M1424.5 837.4l0.5 4.4M1418.7 871.6l0.1 4.0M1421.3 832.8l0.4 4.1M1421.2 878.1l0.1 2.0M1399.2 857.3l-2.0 0.4M1431.6 862.9l5.0 -0.7M1429.3 851.4l0.3 2.1M1407.2 848.1l-4.1 -1.9M1396.2 857.1l-5.0 -1.4M1426.5 841.9l-2.0 4.5M1406.8 857.9l-2.1 -3.2M1412.7 852.8l-1.3 -2.2M1428.7 833.9l-2.0 4.7M1439.0 859.0l2.4 -1.7M1443.6 833.3l0.8 -2.8M1423.9 836.3l0.5 3.9M1405.4 861.2l-3.6 -1.1M1432.2 841.6l1.8 -0.8M1440.8 851.2l1.4 -1.5M1423.6 875.0l0.8 2.8M1440.1 859.9l4.9 -0.7M1421.0 858.9l0.2 2.5M1425.3 840.8l1.4 2.2M1419.9 861.5l-0.9 4.8M1426.8 843.2l-0.8 4.6M1437.8 843.7l0.5 -1.3M1424.6 846.2l0.7 3.1M1411.8 850.9l-2.4 -4.1M1426.3 842.7l0.9 4.4M1406.9 877.5l-0.4 4.0M1409.8 834.2l-1.9 -3.2M1426.4 834.8l1.9 4.8M1441.5 852.4l3.2 -3.0M1400.4 856.5l-1.7 -1.0M1430.8 849.1l3.1 -1.5M1440.9 844.5l1.4 -4.0M1430.0 855.6l4.4 -1.6M1451.4 838.2l0.6 -1.3M1421.9 866.5l0.8 3.8M1405.0 853.8l-3.8 -3.3M1406.3 853.3l-2.3 -1.0M1449.3 828.8l0.7 -2.1M1417.0 856.9l-0.8 2.1M1442.8 853.0l2.0 -1.7M1421.8 858.3l1.5 4.4M1421.4 840.2l-0.3 2.1M1433.6 858.1l3.4 -0.9M1413.7 858.9l-0.1 4.1M1415.1 851.2l-1.8 4.3M1418.2 872.0l-1.2 2.8M1426.9 840.9l-1.1 3.9M1405.9 853.7l-3.4 -2.9M1422.5 852.9l1.7 3.4M1440.7 852.6l2.4 -1.8M1451.8 833.3l0.8 -2.4M1411.4 850.6l-0.7 -1.9M1430.3 860.8l3.6 -0.3M1417.4 857.1l-0.5 2.2M1452.4 834.5l0.5 -2.1M1448.6 849.2l1.6 -3.7M1407.6 838.5l-0.8 -1.3M1418.1 867.6l-0.5 4.4M1426.4 865.0l-1.4 4.4M1410.4 844.3l-0.6 -3.2M1410.6 879.7l-2.2 1.9M1448.3 839.4l0.4 -1.4M1435.6 855.9l2.2 -2.4M1392.5 865.2l-2.9 -0.4M1417.1 849.8l1.0 3.4M1425.5 833.7l-0.0 3.0M1422.2 847.8l0.4 4.6M1404.0 853.2l-3.7 -2.1M1431.6 838.1l0.2 -2.4M1414.3 848.5l-1.3 4.2M1408.4 862.0l-4.2 -0.6M1427.4 861.4l0.1 3.3M1414.3 850.6l-0.4 5.0M1412.7 835.5l-1.7 -2.6M1432.1 845.4l0.4 -5.1M1421.9 849.5l0.5 2.1M1414.1 859.9l-2.8 -0.6M1435.1 864.0l2.2 -0.4M1441.1 857.5l2.8 -2.0M1396.4 860.0l-4.5 -1.5M1439.6 840.1l1.4 -3.7M1400.2 851.6l-3.4 0.5M1403.9 856.1l-2.3 -0.1M1422.9 857.6l0.1 2.0M1429.8 832.2l-2.0 3.7M1398.4 851.1l-2.7 -1.8M1442.4 832.2l1.6 -2.7M1410.7 861.7l-3.3 -3.3M1439.5 841.9l0.5 -1.5M1414.6 843.8l-1.7 -3.4M1407.3 847.2l-2.2 -0.2M1428.0 838.9l0.4 2.7M1439.8 855.3l3.1 -1.0M1440.7 835.6l1.3 -3.7M1440.6 852.6l3.5 -1.1M1446.8 839.0l2.5 -3.3M1394.7 853.1l-2.5 -1.7M1433.4 843.1l3.1 -2.0M1409.0 880.4l-0.3 5.1M1422.4 850.0l0.9 3.8M1441.5 848.9l0.8 -1.8M1445.4 854.2l4.0 -1.9M1428.7 835.7l0.6 5.0M1409.5 850.9l-4.5 -2.3M1429.4 859.7l0.1 1.9M1394.1 859.0l-2.4 -2.4M1420.5 860.3l-0.5 4.7M1443.0 841.4l1.7 -2.9M1432.4 837.1l4.2 -1.7M1416.4 858.5l-0.5 3.1M1446.5 850.1l3.2 -0.9M1427.3 832.3l-0.0 4.5M1437.9 861.7l3.8 3.0M1404.0 859.3l-1.7 -1.2M1420.1 840.8l0.4 1.9M1412.4 854.9l-2.4 -1.5M1426.3 840.7l0.6 3.4M1434.0 862.7l3.7 -3.6M1400.3 849.5l-0.3 -2.5M1416.2 847.8l-1.3 3.9M1451.0 853.1l3.0 -3.5M1425.3 841.0l-1.0 4.5M1441.0 841.0l0.8 -3.4M1419.8 850.4l-0.8 4.3M1417.2 839.2l1.4 4.0M1428.1 846.6l-0.3 2.9M1426.5 852.5l-1.1 2.8M1437.2 846.4l1.0 -2.2M1430.8 858.7l2.0 -3.7M1433.3 858.2l2.2 -2.4M1429.3 859.0l-0.2 3.1M1438.1 839.7l0.3 -1.7M1415.0 838.6l-1.3 -3.3M1414.7 850.5l1.9 3.5M1446.5 839.2l1.1 -3.7M1421.1 845.2l1.3 3.7M1394.4 862.0l-4.7 -1.0M1451.7 851.7l3.3 1.3M1444.6 854.9l3.2 -1.6M1424.6 876.5l-0.7 2.7M1412.0 844.4l-1.1 -1.7M1411.2 845.0l1.0 -3.4M1446.2 847.3l0.8 -1.6M1430.8 843.8l0.5 -4.1M1417.1 879.2l-2.3 4.0M1446.6 833.8l1.0 -3.4M1414.9 843.7l-1.9 -3.3M1451.9 831.4l0.3 -3.1M1433.0 845.9l4.1 -1.3M1411.7 880.3l-1.9 2.2M1445.1 841.8l0.9 -3.7M1440.0 836.4l1.4 -3.2M1442.4 847.2l1.0 -2.7M1405.7 838.8l-1.4 -2.0M1422.7 869.6l0.5 2.8M1430.1 842.5l0.2 2.0M1414.1 845.7l0.6 2.3M1421.5 845.6l-1.0 3.3M1426.5 853.8l0.5 2.5M1421.4 838.0l0.8 1.8M1419.5 876.9l0.1 3.1M1443.4 851.3l3.2 -3.3M1398.0 847.7l-1.8 -0.9M1404.9 880.3l-2.7 1.8M1410.3 855.9l-3.0 -3.6M1438.8 847.5l1.2 -3.0M1430.0 842.7l1.8 -3.0M1422.1 869.8l0.6 2.6M1435.0 855.0l2.0 -3.8M1439.6 847.3l0.7 -1.2M1419.3 850.3l0.9 3.6M1428.5 862.9l4.0 -1.1M1430.8 851.1l0.2 -4.6M1431.7 858.3l2.0 -2.0M1413.5 847.4l0.1 4.5M1428.1 853.7l0.8 2.9M1419.4 862.5l1.7 4.5M1452.6 839.3l0.3 -3.6M1423.3 854.8l-1.1 3.2M1409.8 833.2l-2.1 -3.1M1443.8 842.4l1.4 -3.3M1418.8 848.9l-0.0 4.1M1423.9 846.1l1.3 4.0M1451.3 834.6l1.4 -3.8M1444.2 853.5l4.0 -1.4M1400.1 861.6l-3.6 -0.3M1440.2 862.9l4.0 -0.5M1415.0 851.7l-0.0 2.9M1422.7 831.6l0.6 1.9M1429.4 856.8l3.2 -0.9M1412.9 835.3l-0.6 -1.3M1412.7 860.0l-3.7 0.1M1410.1 850.4l1.1 -3.7M1404.4 854.1l-3.7 -0.1M1438.0 857.1l4.6 -1.8M1432.8 849.4l2.3 -1.9M1450.6 828.8l0.8 -2.8M1437.4 853.4l3.1 -2.1M1418.4 855.7l-1.9 4.4M1427.8 841.5l0.3 3.1M1424.8 853.2l1.0 3.1M1429.2 832.6l1.4 4.1M1446.0 861.8l2.6 0.5M1437.5 845.8l0.9 -2.7M1424.8 855.1l-0.2 5.0M1424.0 854.5l0.7 4.4M1443.5 846.0l0.5 -2.6M1444.5 853.6l4.9 0.7M1426.8 860.2l0.9 4.0M1413.2 846.3l-0.3 3.5M1424.7 883.1l1.8 4.6M1451.4 851.2l4.6 -1.6M1408.1 879.6l-3.4 1.3M1427.2 850.8l-0.6 2.0M1414.5 841.8l0.1 2.4M1417.8 877.3l-0.2 4.7M1404.0 855.2l-4.9 -0.6M1420.4 855.2l0.0 3.9M1449.2 850.3l3.3 -1.5M1439.8 834.2l0.9 -1.9M1429.3 861.3l0.3 3.4M1430.1 842.6l1.7 -4.0M1447.5 838.6l0.4 -1.7M1425.8 882.5l-0.4 4.8M1419.2 872.8l2.4 3.7M1430.0 861.0l2.5 -0.4M1440.4 858.3l2.1 -1.5M1414.0 878.1l-0.6 2.5M1424.6 838.0l0.0 2.6M1429.9 845.8l0.8 -2.2M1417.9 832.6l-0.7 3.8M1435.3 852.5l3.2 -1.3M1426.9 843.7l-0.0 4.2M1419.6 873.7l0.8 3.9M1449.6 855.5l2.0 0.4M1400.8 849.9l-1.5 -4.0M1444.2 858.6l3.9 -1.8M1412.4 876.8l-1.5 1.7M1426.5 855.6l-1.2 4.8M1439.0 860.8l2.1 0.0M1443.9 857.2l2.7 -1.8M1436.9 853.2l2.4 -2.2M1394.6 851.7l-2.3 -1.4M1426.3 841.8l-0.4 2.8M1431.6 847.3l-0.3 -3.0M1445.2 837.4l0.6 -1.9M1445.2 848.4l0.8 -1.7M1441.5 844.5l0.9 -2.1M1439.9 838.2l0.6 -1.6M1408.6 836.1l-1.2 -2.5M1416.9 844.5l0.5 3.4M1447.3 854.8l4.2 -1.3M1420.8 855.7l-0.4 2.1M1438.1 846.9l1.0 -1.9M1402.0 852.9l-2.4 0.1M1410.1 846.9l-4.3 -2.4M1425.7 837.9l0.1 3.6M1399.5 855.9l-4.0 -1.5M1410.9 835.4l-1.2 -2.3M1424.1 865.1l-1.3 4.5M1432.9 844.9l0.2 -3.5M1441.3 862.5l4.4 -1.3M1408.1 844.8l-1.4 -4.0M1401.9 855.0l-1.9 -0.2M1434.4 858.1l4.6 -0.8M1393.7 858.7l-2.8 -2.1M1406.6 832.9l-1.6 -3.2M1445.3 853.3l2.1 0.3M1438.4 840.4l0.4 -1.4M1446.6 858.7l3.2 -1.7M1413.2 854.4l-2.1 -2.6M1451.4 825.6l0.5 -2.7M1449.4 834.0l0.7 -2.8M1408.4 840.1l-0.9 -2.3M1405.8 842.0l-1.6 -3.9M1396.7 852.6l-5.1 0.0M1410.9 836.0l-0.6 -3.6M1426.3 850.2l-1.6 3.7M1440.2 857.0l3.6 -0.6M1409.7 834.9l-0.9 -1.5M1411.6 842.6l-0.4 -1.2M1407.5 858.2l-3.7 0.9M1414.6 843.9l-0.1 2.8M1443.6 862.3l2.5 1.0M1416.8 881.0l0.8 4.1M1428.9 849.0l3.0 -2.8M1438.8 846.3l1.7 -3.6M1439.3 852.1l1.4 -3.5M1437.5 841.7l1.2 -2.6M1440.7 833.6l0.9 -1.9M1423.6 858.1l2.1 2.7M1417.6 855.3l0.4 2.0M1430.5 847.9l2.0 -2.9M1451.7 828.5l0.4 -3.3M1426.7 837.5l0.4 3.0M1413.2 850.6l-2.8 -3.9M1439.8 839.8l0.1 -2.0M1416.0 833.3l0.3 3.7M1427.2 844.2l-0.4 2.4M1400.5 854.1l-4.5 -0.8M1440.3 836.2l1.2 -3.0M1408.4 841.4l-1.7 -2.9M1428.2 858.5l-0.6 3.4M1442.0 861.1l1.8 -1.6M1433.1 855.7l2.7 -3.5M1440.4 858.1l4.1 -2.5M1423.6 847.3l0.5 3.1M1443.6 835.3l1.0 -3.7M1426.3 854.1l0.6 3.3M1413.9 847.7l0.4 2.7M1413.7 853.5l0.3 2.3M1416.4 852.1l1.1 2.9M1445.0 861.6l3.0 1.1M1416.8 838.4l0.5 2.3M1421.6 837.1l-2.4 3.7M1422.2 854.8l-1.4 3.4M1429.7 840.6l-0.0 4.5M1441.0 845.7l0.7 -1.9M1406.8 844.4l-1.8 -1.1M1439.0 839.4l1.0 -3.6M1428.9 856.5l4.1 -0.8M1425.1 850.7l0.6 4.5M1413.2 860.1l-0.1 2.9M1412.9 861.3l-1.9 -1.0M1434.1 836.5l0.0 -2.8M1411.9 878.9l-4.0 2.3M1413.7 838.5l-1.2 -1.6M1414.4 841.8l1.0 4.1M1433.5 846.6l1.6 -1.7M1416.4 866.3l2.8 4.2M1419.2 834.9l0.1 3.1M1412.2 861.9l-3.0 -0.8M1451.3 828.4l1.0 -3.5M1404.6 880.5l-4.4 2.1M1430.5 833.6l-0.7 2.5M1413.6 851.8l-2.2 -1.1M1430.9 846.4l3.2 -2.5M1447.6 853.4l3.7 1.0M1416.8 837.1l0.1 3.9M1402.8 859.6l-4.2 -0.3M1396.9 852.4l-4.6 -0.3M1410.8 834.6l-0.8 -1.3M1428.1 849.8l-0.2 3.2M1444.5 849.1l2.2 -0.9M1440.8 845.8l1.4 -2.4M1413.0 879.2l-1.5 2.6M1402.9 856.0l-3.1 -3.7M1450.5 836.4l0.6 -1.2M1397.3 850.6l-1.4 -2.2M1439.0 853.8l1.6 -1.2M1431.0 865.0l4.7 -2.0M1430.8 847.2l-1.2 3.1M1419.6 855.4l-0.4 3.5M1409.2 848.5l-2.9 -3.3M1426.7 852.7l0.2 2.4M1448.5 857.4l1.8 -1.2M1447.1 841.6l1.0 -2.7M1440.0 847.9l0.6 -2.3M1421.8 864.2l1.1 2.8M1407.1 879.4l-1.3 2.2M1424.1 856.4l0.4 4.5M1439.8 846.1l0.7 -3.5M1441.3 857.4l3.0 -0.2M1397.4 860.0l-3.6 -2.1M1426.3 839.3l2.3 4.4M1435.6 842.1l0.7 -1.9M1439.6 839.5l0.2 -2.2M1427.3 850.6l-0.9 2.4M1409.7 850.0l-1.3 -2.6M1429.6 860.0l-0.2 2.0M1397.0 851.4l-3.2 -0.2M1404.1 847.7l-0.8 -2.1M1437.1 854.0l3.2 0.2M1406.5 849.9l-4.1 -2.5M1443.0 857.2l2.3 -1.6M1400.0 826.5l-0.9 -1.4M1437.9 837.2l1.7 -3.4M1438.7 838.6l1.0 -3.1M1415.4 853.5l0.2 2.6M1423.2 875.5l0.7 2.2M1421.4 860.1l-0.2 3.2M1393.6 859.1l-2.6 0.1M1448.6 855.5l2.3 -2.4M1430.9 847.1l-1.4 2.6M1427.8 845.3l-0.4 3.5M1428.1 858.4l-0.5 4.8M1410.3 882.4l-1.9 3.1M1405.7 848.1l-2.1 -3.3M1425.4 836.5l-0.1 4.5M1450.8 835.0l1.9 -2.7M1437.4 844.1l1.0 -4.1M1446.1 854.1l2.7 -1.0M1411.3 854.3l-2.6 -4.2M1418.1 840.4l-0.1 2.3M1422.5 875.5l-0.1 2.3M1410.2 834.5l-1.0 -1.9M1426.9 849.7l0.0 2.1M1427.7 848.4l-0.2 4.4M1448.4 841.6l0.6 -2.0M1445.5 849.5l2.1 -0.9M1411.6 860.6l-4.1 -1.9M1408.8 862.0l-2.8 -3.4M1437.5 862.9l4.0 -2.2M1415.4 858.6l-0.5 3.7M1417.6 841.9l-0.1 2.9M1421.4 872.4l-0.6 2.6M1441.9 857.4l3.6 -3.1M1418.3 853.2l-0.4 4.2M1421.4 864.5l0.3 4.3M1420.5 886.3l-1.2 2.2M1424.0 869.6l1.2 4.4M1402.7 855.8l-4.9 -0.4M1439.9 862.1l4.6 0.0M1410.4 859.6l-2.8 -2.1M1422.3 879.6l-0.5 4.2M1420.1 843.4l1.2 4.9M1424.2 862.6l-1.5 3.3M1436.1 853.8l3.0 -4.2M1427.1 854.7l-0.3 4.0M1439.9 840.6l1.9 -2.7M1398.1 848.7l-1.3 -1.7M1439.5 855.2l3.9 -2.2M1408.3 876.1l-1.6 2.0M1422.5 870.7l1.3 2.5M1399.2 850.4l-2.3 -0.9M1443.0 842.2l1.2 -2.3M1439.3 845.6l0.8 -1.8M1440.4 848.8l1.5 -2.6M1435.2 855.4l3.4 -1.9M1420.6 883.2l0.7 3.9M1419.5 885.2l-0.2 2.5M1424.5 868.2l0.7 3.9M1416.8 871.6l0.3 3.5M1429.1 862.5l-1.1 4.4M1418.3 832.2l-0.0 4.2" stroke="#3d3d3d" stroke-width="0.50" stroke-opacity="0.85" fill="none" stroke-linecap="round"/>
<path d="M1444.2 847.5l2.1 -3.1M1448.3 838.0l0.8 -1.9M1414.7 853.2l-1.0 4.8M1449.4 832.1l0.7 -1.4M1412.0 856.7l-4.7 -1.9M1447.0 833.4l1.3 -3.5M1436.5 859.6l3.1 -3.3M1450.8 839.4l1.1 -4.0M1445.1 839.6l0.7 -1.9M1442.8 841.8l1.1 -4.1M1441.5 837.4l1.5 -2.6M1445.4 831.2l0.6 -2.9M1446.7 835.8l2.1 -3.0M1432.6 856.5l3.7 -1.0M1409.8 840.9l-2.0 -2.6M1448.9 837.8l1.4 -3.7M1432.0 855.8l4.4 -1.3M1444.2 848.3l1.7 -3.3M1450.9 840.1l0.8 -2.0M1450.9 832.2l0.7 -2.3M1448.3 843.9l1.1 -3.2M1448.6 840.8l1.0 -3.3M1446.4 835.8l0.9 -1.5M1414.8 855.4l-0.3 1.9M1413.5 858.9l-1.6 -1.1M1441.8 842.2l1.3 -3.4M1444.6 841.2l1.1 -3.5M1451.4 842.5l0.9 -2.6M1450.6 841.8l0.7 -2.6M1410.5 840.5l-1.4 -3.8M1449.4 833.7l0.8 -2.3M1442.7 833.7l0.8 -2.0M1447.1 848.8l1.5 -3.8M1430.4 854.9l2.2 -1.9M1446.9 831.2l0.8 -1.9M1448.4 834.5l1.3 -2.3M1443.1 844.6l1.9 -3.2M1422.0 882.1l-1.7 4.1M1447.7 843.6l1.7 -3.9M1449.6 831.8l0.3 -1.3M1442.6 843.6l1.5 -3.7M1448.2 845.5l0.8 -1.6M1446.1 843.5l0.7 -1.8M1434.3 859.6l3.4 0.4M1434.3 860.4l3.6 -1.3M1447.3 847.4l0.8 -1.5M1410.4 857.6l-4.8 0.3M1449.4 835.5l1.5 -2.1M1445.3 836.9l1.1 -1.8M1415.2 856.1l0.6 2.4M1421.7 882.2l1.2 4.1M1446.9 834.3l1.6 -3.0M1446.9 841.1l1.1 -2.5M1420.6 882.8l-2.8 2.6M1433.0 858.7l1.7 -3.2M1447.2 840.1l0.7 -3.5M1414.1 857.0l-0.4 3.3M1410.2 856.6l-1.9 -0.9M1434.6 857.5l4.7 -1.5M1447.1 835.7l1.3 -1.9M1438.0 856.5l2.7 -1.3M1444.6 834.5l1.2 -3.8M1428.7 852.1l0.9 5.0M1452.0 841.4l0.8 -1.9M1452.6 834.9l0.3 -1.3M1446.4 835.8l0.2 -1.6M1451.2 837.7l1.0 -2.5M1446.8 830.5l1.2 -2.3M1450.3 831.9l1.3 -3.4M1444.5 840.4l0.5 -2.4M1421.8 881.6l-1.1 4.7M1432.8 855.0l3.3 -1.6M1410.4 857.5l-1.7 -3.9M1422.8 883.7l1.2 4.1M1406.7 857.8l-1.6 -1.8M1412.1 854.5l-2.4 -3.3M1407.9 859.2l-2.7 -0.5M1444.0 835.2l0.7 -1.7M1443.7 836.9l0.8 -1.6M1408.4 859.1l-2.9 -2.7M1429.2 858.5l3.4 -1.4M1446.3 848.5l1.4 -3.9M1433.8 859.7l4.9 -0.6M1430.0 856.3l2.4 -1.3M1435.4 858.8l4.2 -1.9M1429.4 860.3l3.3 -1.4M1449.4 845.1l0.2 -2.6M1449.5 845.6l1.1 -3.5M1441.7 842.3l2.0 -2.8M1422.7 881.6l0.3 3.1M1410.5 855.8l-1.7 -1.4M1443.1 837.6l1.4 -3.3M1437.1 856.7l3.5 -1.6M1443.4 843.9l1.3 -3.8M1436.4 853.5l2.0 0.7M1410.4 838.8l-1.9 -3.2M1420.4 881.9l-2.0 2.3M1444.2 831.6l0.3 -1.3M1451.5 836.1l1.2 -2.2M1435.0 859.2l3.8 -3.4M1446.6 840.0l1.2 -3.3M1441.7 837.1l1.6 -4.0M1421.6 879.3l1.1 4.4M1447.1 829.9l0.8 -1.3M1445.2 839.0l0.9 -1.8M1449.1 847.5l1.1 -3.2M1421.4 880.9l1.4 2.8M1434.5 858.6l2.4 -1.2M1406.9 858.3l-3.1 0.3M1447.0 833.5l1.1 -3.9M1449.7 846.9l0.4 -1.6M1449.4 841.8l1.2 -3.9M1407.3 858.0l-2.8 -3.5M1420.8 884.2l0.3 2.1M1446.0 835.4l0.6 -1.7M1449.9 841.2l0.7 -3.1M1432.1 858.6l4.3 -2.7M1438.7 858.1l1.9 -3.8M1445.8 846.4l0.4 -1.5M1413.1 854.8l1.7 3.4M1431.7 860.7l3.3 -0.7M1445.8 832.2l1.1 -2.7M1445.3 829.2l1.9 -2.5M1421.6 883.3l-1.7 4.0M1449.8 834.5l1.3 -3.0M1447.0 841.9l0.9 -3.8M1450.2 839.3l0.6 -2.3M1445.7 839.6l1.5 -3.5M1445.3 836.3l1.2 -3.6M1433.1 855.7l4.2 -1.8M1442.3 844.4l1.7 -3.2M1423.8 881.3l0.2 3.1M1448.6 834.3l0.8 -1.7M1404.9 856.5l-2.0 -0.3M1409.6 836.8l-1.2 -1.4M1433.9 861.5l1.6 -2.9M1422.9 880.0l-2.0 2.0M1408.4 856.5l-1.3 -1.9M1447.0 836.3l0.9 -1.7M1445.3 831.3l0.7 -4.0M1429.6 856.6l0.0 4.3M1448.0 844.7l0.6 -1.4M1451.4 842.3l0.3 -2.2M1409.7 857.6l-4.0 -2.2M1434.0 859.2l2.1 0.1M1413.3 857.1l-0.6 3.1M1445.5 834.7l0.8 -2.0M1435.6 855.2l4.1 -1.3M1447.7 846.2l1.3 -3.0M1412.6 854.7l-2.7 -2.7M1412.0 856.2l-4.0 -2.0M1444.4 831.3l0.9 -2.9M1410.0 854.9l-2.0 -2.2M1443.7 833.3l1.3 -3.5M1421.5 880.7l-1.5 2.6M1449.5 835.3l0.7 -1.6M1430.8 855.0l0.9 -1.7M1448.9 847.3l1.3 -2.6M1450.2 845.4l1.6 -2.0M1424.0 882.3l0.0 2.7M1450.2 840.4l0.7 -3.4M1429.5 857.6l1.3 2.3M1410.9 859.4l-4.1 -1.2M1444.8 844.9l1.7 -3.8M1430.1 859.4l0.3 -2.9M1414.4 852.6l-1.3 2.0M1423.9 842.0l0.6 3.2M1432.5 858.3l3.7 -2.2M1447.0 836.2l1.6 -2.9M1445.3 844.1l1.2 -2.0M1413.0 858.0l-3.5 -3.4M1450.8 833.1l1.4 -3.3M1413.5 857.9l-1.1 -4.2M1444.7 832.8l0.6 -1.2M1436.8 859.4l1.5 -1.2M1443.1 846.8l1.3 -3.8M1410.5 859.4l-1.2 -4.3M1410.5 856.7l-3.1 -1.0M1449.6 846.9l1.0 -2.1M1445.6 838.7l0.4 -1.8M1446.2 849.4l2.1 -3.6M1444.8 839.4l1.2 -3.1M1432.0 858.0l2.7 -3.0M1444.7 838.8l1.3 -3.9M1448.2 842.0l1.2 -3.7M1447.8 836.6l0.6 -2.1M1443.7 845.1l0.6 -1.2M1412.1 861.5l-2.7 -3.8M1449.1 835.1l0.8 -1.8M1449.7 837.0l0.3 -1.3M1444.6 838.6l1.3 -3.8M1410.8 853.9l-4.3 -1.6M1436.7 857.4l4.4 -2.4M1413.8 858.0l-2.8 -1.2M1450.8 834.5l0.8 -1.8M1448.4 832.6l0.8 -4.1M1432.7 859.0l0.4 -3.6M1420.9 879.8l-0.8 3.1M1414.1 856.7l-2.9 -2.6M1414.8 855.3l0.2 2.9M1446.5 844.8l-0.1 -4.2M1423.5 882.7l0.4 3.3M1409.0 860.3l-2.4 -2.9M1444.2 844.9l0.8 -2.4M1427.2 854.8l0.7 4.8M1450.3 845.0l0.6 -1.3M1416.0 855.3l-1.6 2.4M1448.1 838.0l1.4 -3.8M1410.8 855.1l-4.2 -2.3M1434.7 860.9l1.7 -2.0M1423.2 880.6l0.3 3.6M1409.0 839.6l-1.0 -1.5M1442.6 839.4l1.3 -3.8M1413.9 854.5l1.2 4.0M1434.7 854.9l3.1 -2.7M1430.1 855.7l-0.3 4.5M1424.0 841.2l-0.3 4.5M1410.3 841.4l-1.6 -4.0M1444.9 840.9l0.1 -3.9M1433.3 859.7l3.2 -1.5M1408.4 854.6l-2.6 -1.6M1447.9 835.5l0.6 -2.5M1447.5 835.3l0.3 -1.8M1415.4 855.6l0.2 2.3M1445.2 845.9l1.6 -2.5M1452.1 841.8l0.4 -1.5M1451.0 842.6l1.1 -2.4M1406.3 858.4l-1.2 -3.2M1444.3 831.3l0.3 -1.5M1448.6 832.0l0.8 -2.7M1431.4 860.6l3.2 -2.9M1444.4 836.7l0.3 -1.4M1409.8 858.2l-1.1 -4.1M1447.2 844.5l0.5 -2.6M1433.9 856.0l2.5 -1.7M1413.7 856.1l0.8 4.4M1450.7 833.9l0.8 -1.7M1431.0 858.7l4.9 0.1M1421.7 881.6l0.9 3.8M1433.1 859.2l4.6 -2.2M1444.7 839.4l0.4 -1.5M1410.9 856.1l-1.4 -2.7M1435.0 856.2l3.0 -1.6M1446.1 840.9l1.2 -3.1M1432.0 857.4l1.8 -2.0M1445.3 831.9l1.8 -3.3M1447.6 843.6l1.6 -3.6M1451.3 843.4l1.4 -2.3M1452.2 837.1l0.3 -1.6M1449.1 840.4l1.3 -2.7M1448.0 829.8l1.7 -3.6M1422.7 881.4l-1.2 4.9M1414.6 855.2l-0.4 4.9M1410.7 857.8l-3.6 -3.6M1448.8 834.7l1.4 -2.9M1449.8 830.7l1.2 -1.8M1429.8 855.4l3.5 -1.7M1433.6 854.4l1.4 -3.1M1443.8 836.4l1.1 -3.7M1434.4 857.8l4.2 -0.0M1443.6 842.3l0.5 -1.3M1415.0 856.8l-0.7 1.9M1409.4 838.7l-1.4 -2.8M1409.7 837.7l-1.1 -1.7M1408.0 858.6l-2.9 -0.7M1408.1 854.3l-2.0 -1.5M1429.9 853.3l-0.7 3.9M1411.3 839.9l-2.4 -3.5M1448.6 848.0l0.5 -1.9M1410.8 857.1l-1.4 -2.7M1421.7 880.2l-0.4 3.6M1446.9 838.2l1.4 -3.9M1424.0 880.9l1.1 5.0M1410.2 859.8l-1.7 -3.0M1411.5 853.7l-2.6 -0.9" stroke="#1e1e1e" stroke-width="0.62" stroke-opacity="0.95" fill="none" stroke-linecap="round"/>
<path d="M1404.9 855.5 L1408.7 853.9 L1414.1 857.7 L1409.2 858.8Z" fill="#161616"/>
<path d="M1428.6 858.2 L1433.4 854.7 L1438.8 855.5 L1434.5 859.3Z" fill="#161616"/>
<ellipse cx="1409.6" cy="856.8" rx="1.1" ry="1.0" fill="#cfcfcf" transform="rotate(0 1409.6 856.8)"/>
<ellipse cx="1433.4" cy="857.3" rx="1.1" ry="1.0" fill="#cfcfcf" transform="rotate(0 1433.4 857.3)"/>
<path d="M1418.2 881.9 L1421.6 880.8 L1425.4 881.9 L1423.8 885.6 L1421.6 888.0 L1419.7 885.6Z" fill="#0e0e0e"/>
</g>
</g>
</svg>
</body></html>
